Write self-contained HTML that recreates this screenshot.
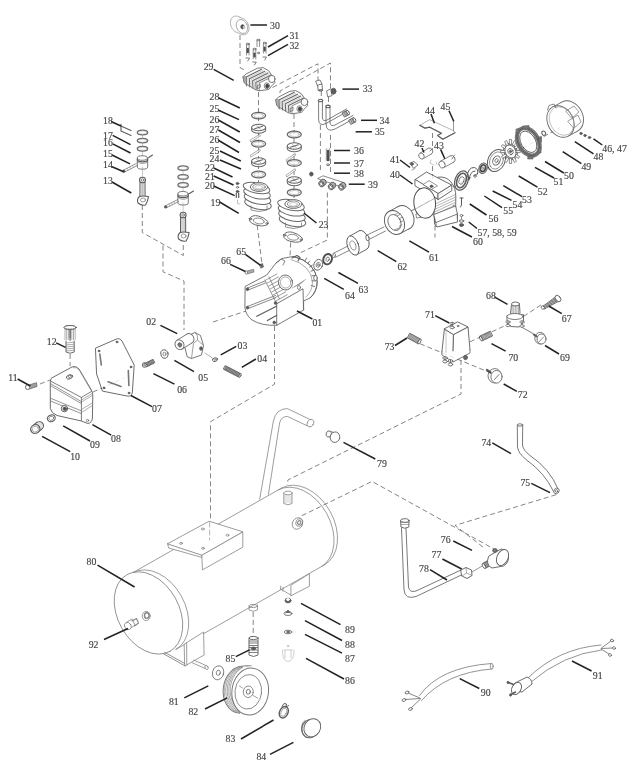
<!DOCTYPE html><html><head><meta charset="utf-8"><style>html,body{margin:0;padding:0;background:#fff;}svg{display:block;filter:blur(0.3px);}text{font-family:"Liberation Serif",serif;}</style></head><body>
<svg width="641" height="768" viewBox="0 0 641 768">
<rect width="641" height="768" fill="#fff"/>
<g fill="none" stroke="#777" stroke-width="0.9" stroke-dasharray="5,3">
<polyline points="240,35 240,67.5 246,71"/>
<polyline points="272.5,87.5 318,63.75 318,80"/>
<polyline points="280,93 280,91 330.5,63 330.5,88"/>
<polyline points="321.3,91 321.3,100"/>
<polyline points="328.5,97 328.5,106"/>
<polyline points="258.5,92 258.5,182"/>
<polyline points="294,114 294,198"/>
<polyline points="257.2,225.2 261.8,262.7"/>
<polyline points="290.7,242.4 290,256.4"/>
<polyline points="320.4,125 320.4,172"/>
<polyline points="330.5,135 330.5,175"/>
<polyline points="327.4,192.5 327.4,240 299.3,253.3"/>
<polyline points="142.3,205 142.3,232.5 183.3,255.5 183.3,243"/>
<polyline points="163,245.5 163,271.8 184,281 184,330"/>
<polyline points="213,322 246,311"/>
<polyline points="253.2,612 253.2,637"/>
<polyline points="411,211 560,127.5"/>
<polyline points="432.5,133 432.5,147"/>
<polyline points="432.5,166 432.5,180"/>
<polyline points="435,217.5 435,237.5"/>
<polyline points="40,384 50,380"/>
<polyline points="93,392 124,378"/>
<polyline points="70.1,354 70.1,366"/>
<polyline points="274.5,326 274.5,384.2 210.5,421.7 210.5,521"/>
<polyline points="420,343.7 492.4,373.6"/>
<polyline points="470,341.8 506.5,325"/>
<polyline points="523.4,316.5 542,304.3"/>
<polyline points="461,360 461,394 287.8,480 287.8,485"/>
<polyline points="301.8,515.7 372,481.4 494,549"/>
<polyline points="483,547 455,525.4 557.8,494.2"/>
</g>
<g fill="none" stroke="#333" stroke-width="0.8" stroke-linejoin="round" stroke-linecap="round" opacity="0.8">
<g stroke="#666">
<ellipse cx="148.5" cy="613" rx="44" ry="30.7" transform="rotate(60.8 148.5 613)" fill="#fff"/>
<path d="M133.034 572.591 A44 30.7 60.8 0 1 175.966 649.409"/>
<path d="M281.834 487.891 A44 30.7 60.8 0 1 324.766 564.709"/>
<path d="M278.334 489.891 A44 30.7 60.8 0 1 321.266 566.709"/>
<line x1="133.034" y1="572.591" x2="281.834" y2="487.891"/>
<line x1="175.966" y1="649.409" x2="324.766" y2="564.709"/>
<path d="M259.7 499 L273.4 421 Q276 408.6 287.4 408.6 L311.6 420.3"/>
<path d="M268.4 494.4 L279.6 423 Q281 416.4 287.4 416.4 L307 425.7"/>
<ellipse cx="310.4" cy="423.2" rx="3.1" ry="4" transform="rotate(30 310.4 423.2)" fill="#fff"/>
<polygon points="167.7,543.7 168.6,548 202.3,557.5 202.1,555" fill="#fff"/>
<polygon points="202.1,555 242.8,531.8 242.8,547.2 202.8,569.7" fill="#fff"/>
<polygon points="167.7,543.7 209.1,521.2 242.8,531.8 202.1,555" fill="#fff"/>
<line x1="209.6" y1="522" x2="209.6" y2="540" stroke="#999" stroke-width="0.9" stroke-dasharray="5,3"/>
<ellipse cx="181" cy="543.3" rx="1.4" ry="1"/>
<ellipse cx="202.8" cy="529" rx="1.4" ry="1"/>
<ellipse cx="227.5" cy="535.2" rx="1.4" ry="1"/>
<ellipse cx="203" cy="548.3" rx="1.4" ry="1"/>
<path d="M283.8 493 L283.8 503.5 Q288 506 292 503.5 L292 493" fill="#fff"/>
<ellipse cx="287.9" cy="493" rx="4.1" ry="1.8" fill="#fff"/>
<line x1="284" y1="496" x2="291.8" y2="496" stroke-width="0.5" stroke="#888"/>
<line x1="284" y1="498" x2="291.8" y2="498" stroke-width="0.5" stroke="#888"/>
<line x1="284" y1="500" x2="291.8" y2="500" stroke-width="0.5" stroke="#888"/>
<line x1="284" y1="502" x2="291.8" y2="502" stroke-width="0.5" stroke="#888"/>
<ellipse cx="297.5" cy="523.5" rx="5" ry="6" transform="rotate(30 297.5 523.5)" fill="#fff"/>
<ellipse cx="299.2" cy="522.5" rx="3.2" ry="4" transform="rotate(30 299.2 522.5)"/>
<ellipse cx="299.2" cy="522.5" rx="1.5" ry="2" transform="rotate(30 299.2 522.5)" stroke-width="1.2"/>
<ellipse cx="146.2" cy="616" rx="4" ry="4.6" fill="#fff"/>
<ellipse cx="146.8" cy="615.6" rx="2.3" ry="2.8" stroke-width="1.4"/>
<path d="M127 622 L132 619 L135 625 L129.5 629 Z" fill="#fff"/>
<ellipse cx="127.8" cy="626" rx="3.2" ry="3.8" transform="rotate(-30 127.8 626)" fill="#fff"/>
<path d="M132 621 L136.5 618.5 L138.5 623 L134.5 626" stroke-width="1.1"/>
<polygon points="184.5,644 203.6,632 204.1,655 185,665.9" fill="#fff"/>
<path d="M163.7 653.9 L185 665.9 M164.5 652.3 L184.8 663.5" stroke-width="0.9"/>
<line x1="186.6" y1="643" x2="186.8" y2="665"/>
<path d="M193.5 660 L207 666 M192.3 662.8 L205.8 668.8" stroke-width="0.8"/>
<ellipse cx="206.6" cy="667.5" rx="1.5" ry="2.1" transform="rotate(-30 206.6 667.5)" fill="#fff"/>
<polygon points="291.25,585 309.4,573.75 309.4,586.25 291.25,595.6" fill="#fff"/>
<path d="M280.5 589 L291.25 595.3 M280.5 589 L280.8 586 M283 587.5 L283 591"/>
<path d="M249 606 L249 610 Q253 612.5 257.5 610 L257.5 605"/>
<ellipse cx="253.2" cy="606" rx="4.2" ry="1.6"/>
</g>
<path d="M245.5 286.25 L266.75 275 L276 263 L282 258.5 L293.4 256.4 Q316 262 317.2 281.7 Q317 292 310 298 L303.6 301 L303.6 310 L276.7 325.3 Q262 326 252 320 Q245.5 315 244.9 307.5 Z" stroke-width="0.9" stroke="#444" fill="#fff"/>
<path d="M276.7 303.75 L303 288.75 L303.6 310 M276.7 303.75 L276.7 325.3" stroke-width="0.9" stroke="#444"/>
<path d="M264.9 280 L276.7 303.75 M269 277 L279.5 299" stroke-width="0.7" stroke="#444"/>
<line x1="265.9" y1="280" x2="276.9" y2="274" stroke-width="0.7" stroke="#555"/>
<line x1="267.375" y1="282.969" x2="278.375" y2="276.969" stroke-width="0.7" stroke="#555"/>
<line x1="268.85" y1="285.938" x2="279.85" y2="279.938" stroke-width="0.7" stroke="#555"/>
<line x1="270.325" y1="288.906" x2="281.325" y2="282.906" stroke-width="0.7" stroke="#555"/>
<line x1="271.8" y1="291.875" x2="282.8" y2="285.875" stroke-width="0.7" stroke="#555"/>
<line x1="273.275" y1="294.844" x2="284.275" y2="288.844" stroke-width="0.7" stroke="#555"/>
<line x1="274.75" y1="297.812" x2="285.75" y2="291.812" stroke-width="0.7" stroke="#555"/>
<line x1="276.225" y1="300.781" x2="287.225" y2="294.781" stroke-width="0.7" stroke="#555"/>
<path d="M247.4 288 L264.9 281 M247.4 290.3 L265.5 283" stroke-width="0.8" stroke="#444"/>
<path d="M247.4 306.5 L275.5 295.5 M247.4 308.8 L275.5 297.8" stroke-width="0.8" stroke="#444"/>
<line x1="256.75" y1="316.25" x2="276.5" y2="306.25" stroke-width="1.2" stroke="#333"/>
<line x1="267.4" y1="320.6" x2="276.5" y2="315.5" stroke-width="1.2" stroke="#333"/>
<ellipse cx="247.4" cy="289.2" rx="1.3" ry="1.4" fill="#333"/>
<ellipse cx="247.4" cy="307.6" rx="1.3" ry="1.4" fill="#333"/>
<ellipse cx="275.5" cy="303" rx="1.3" ry="1.4" fill="#333"/>
<ellipse cx="274.25" cy="322.5" rx="1.3" ry="1.4" fill="#333"/>
<ellipse cx="285.5" cy="282.5" rx="7" ry="7.5" transform="rotate(-15 285.5 282.5)" stroke-width="0.9" stroke="#444" fill="#fff"/>
<ellipse cx="285.5" cy="282.5" rx="5.2" ry="5.6" transform="rotate(-15 285.5 282.5)" stroke-width="0.6" stroke="#666"/>
<line x1="292" y1="288" x2="301" y2="283" stroke-width="0.6" stroke="#666"/>
<line x1="294.5" y1="286.8" x2="302.5" y2="281.8" stroke-width="0.6" stroke="#666"/>
<line x1="297" y1="285.6" x2="304" y2="280.6" stroke-width="0.6" stroke="#666"/>
<line x1="299.5" y1="284.4" x2="305.5" y2="279.4" stroke-width="0.6" stroke="#666"/>
<path d="M293.4 256.4 Q316 262 317.2 281.7 Q317 292 310 298" stroke-width="0.9" stroke="#444"/>
<path d="M291 259.5 Q311 265 312.5 282 Q312.5 291 306 297" stroke-width="0.6" stroke="#555"/>
<line x1="305.071" y1="260.874" x2="306.551" y2="258.155" stroke-width="1" stroke="#555"/>
<line x1="307.552" y1="263.457" x2="309.754" y2="261.126" stroke-width="1" stroke="#555"/>
<line x1="309.584" y1="266.964" x2="312.379" y2="265.158" stroke-width="1" stroke="#555"/>
<line x1="311.046" y1="271.185" x2="314.268" y2="270.013" stroke-width="1" stroke="#555"/>
<line x1="311.852" y1="275.871" x2="315.309" y2="275.402" stroke-width="1" stroke="#555"/>
<line x1="311.954" y1="280.743" x2="315.441" y2="281.005" stroke-width="1" stroke="#555"/>
<line x1="311.346" y1="285.511" x2="314.656" y2="286.488" stroke-width="1" stroke="#555"/>
<path d="M276 263 L281 259 L285 261 L283 265" stroke-width="0.8" stroke="#444"/>
<path d="M292 258 L297 255.5 L300 257.5 L298 261" stroke-width="1.1" stroke="#333"/>
<ellipse cx="315.5" cy="278" rx="1.8" ry="2.5" stroke-width="0.8" fill="#fff"/>
<ellipse cx="299" cy="287.5" rx="1.5" ry="2" stroke-width="0.7"/>
<path d="M240 17.3 L244.5 19.3 A5.6 7.4 -25 0 1 239.4 33.5 L234.9 31.5 A5.6 7.4 -25 0 1 240 17.3 Z" stroke="#888" fill="#fff"/>
<ellipse cx="242" cy="26.5" rx="5.4" ry="7.3" transform="rotate(-25 242 26.5)" stroke="#888" fill="#fff"/>
<ellipse cx="242.6" cy="26.8" rx="1.8" ry="2.1" stroke="#222" fill="#222"/>
<ellipse cx="244" cy="27.3" rx="1" ry="1.2" stroke="#bbb" fill="#bbb"/>
<path d="M246.5 44 L246.5 55 M249.1 44 L249.1 55" stroke-width="0.7"/>
<ellipse cx="247.8" cy="44" rx="1.5" ry="0.8" fill="#fff"/>
<line x1="247.8" y1="48.95" x2="247.8" y2="52.25" stroke-width="2.2" stroke="#222"/>
<path d="M246 58 L249.6 58 L247.8 61" stroke-width="0.8" fill="#fff"/>
<path d="M253.2 49 L253.2 59 M255.8 49 L255.8 59" stroke-width="0.7"/>
<ellipse cx="254.5" cy="49" rx="1.5" ry="0.8" fill="#fff"/>
<line x1="254.5" y1="53.5" x2="254.5" y2="56.5" stroke-width="2.2" stroke="#222"/>
<path d="M252.7 62 L256.3 62 L254.5 65" stroke-width="0.8" fill="#fff"/>
<path d="M257 40 L257 46.5 M259.6 40 L259.6 46.5" stroke-width="0.7"/>
<ellipse cx="258.3" cy="40" rx="1.5" ry="0.8" fill="#fff"/>
<path d="M263.4 43 L263.4 53 M266 43 L266 53" stroke-width="0.7"/>
<ellipse cx="264.7" cy="43" rx="1.5" ry="0.8" fill="#fff"/>
<line x1="264.7" y1="47.5" x2="264.7" y2="50.5" stroke-width="2.2" stroke="#222"/>
<path d="M262.9 57 L266.5 57 L264.7 60" stroke-width="0.8" fill="#fff"/>
<ellipse cx="258.5" cy="53" rx="1" ry="0.8"/>
<polygon points="243.3,76.4 246.2,73.9 257.3,68.25 263.05,67.6 268.7,70.75 271.2,74.5 274.3,78.9 274.9,82.6 271.8,85.75 268.7,89.5 259.3,90.75 254.9,89.5 244.3,82.6" stroke-width="0.9" stroke="#444" fill="#fff"/>
<path d="M261.6 69.3 L246.2 76.9 L246.6 85.7" stroke-width="1.1" stroke="#444"/>
<path d="M263.2 70.2 L247.8 77.8 L248.2 86.5" stroke-width="0.5" stroke="#888"/>
<path d="M264.8 71.2 L249.4 78.8 L249.8 86.84" stroke-width="1.1" stroke="#444"/>
<path d="M266.4 72.1 L251 79.7 L251.4 87.64" stroke-width="0.5" stroke="#888"/>
<path d="M268 73.1 L252.6 80.7 L253 87.98" stroke-width="1.1" stroke="#444"/>
<path d="M269.6 74 L254.2 81.6 L254.6 88.78" stroke-width="0.5" stroke="#888"/>
<path d="M271.2 75 L255.8 82.6 L256.2 89.12" stroke-width="1.1" stroke="#444"/>
<path d="M272.8 75.9 L257.4 83.5 L257.8 89.92" stroke-width="0.5" stroke="#888"/>
<polygon points="243.3,76.4 246.2,76.9 246.6,85.7 244.3,82.6" stroke-width="0.6" stroke="#555" fill="#999"/>
<path d="M259.3 90.75 L259.3 83 L271.8 77" stroke-width="0.7" stroke="#555"/>
<ellipse cx="271.8" cy="79" rx="3.3" ry="3.6" stroke-width="0.9" stroke="#444" fill="#fff"/>
<ellipse cx="266.8" cy="85.8" rx="2.6" ry="3" stroke-width="0.8" stroke="#444" fill="#fff"/>
<ellipse cx="267.1" cy="86" rx="1.4" ry="2" stroke="#111" fill="#111"/>
<path d="M257.8 85.5 l2.5 -1.2 l0 3 l-2.5 1.2 Z" stroke-width="0.8" stroke="#444"/>
<polygon points="276,99.4 278.9,96.9 290,91.25 295.75,90.6 301.4,93.75 303.9,97.5 307,101.9 307.6,105.6 304.5,108.75 301.4,112.5 292,113.75 287.6,112.5 277,105.6" stroke-width="0.9" stroke="#444" fill="#fff"/>
<path d="M294.3 92.3 L278.9 99.9 L279.3 108.7" stroke-width="1.1" stroke="#444"/>
<path d="M295.9 93.2 L280.5 100.8 L280.9 109.5" stroke-width="0.5" stroke="#888"/>
<path d="M297.5 94.2 L282.1 101.8 L282.5 109.84" stroke-width="1.1" stroke="#444"/>
<path d="M299.1 95.1 L283.7 102.7 L284.1 110.64" stroke-width="0.5" stroke="#888"/>
<path d="M300.7 96.1 L285.3 103.7 L285.7 110.98" stroke-width="1.1" stroke="#444"/>
<path d="M302.3 97 L286.9 104.6 L287.3 111.78" stroke-width="0.5" stroke="#888"/>
<path d="M303.9 98 L288.5 105.6 L288.9 112.12" stroke-width="1.1" stroke="#444"/>
<path d="M305.5 98.9 L290.1 106.5 L290.5 112.92" stroke-width="0.5" stroke="#888"/>
<polygon points="276,99.4 278.9,99.9 279.3,108.7 277,105.6" stroke-width="0.6" stroke="#555" fill="#999"/>
<path d="M292 113.75 L292 106 L304.5 100" stroke-width="0.7" stroke="#555"/>
<ellipse cx="304.5" cy="102" rx="3.3" ry="3.6" stroke-width="0.9" stroke="#444" fill="#fff"/>
<ellipse cx="299.5" cy="108.8" rx="2.6" ry="3" stroke-width="0.8" stroke="#444" fill="#fff"/>
<ellipse cx="299.8" cy="109" rx="1.4" ry="2" stroke="#111" fill="#111"/>
<path d="M290.5 108.5 l2.5 -1.2 l0 3 l-2.5 1.2 Z" stroke-width="0.8" stroke="#444"/>
<path d="M316 81 L320 80 L322 84 L318 86 Z" fill="#fff"/>
<path d="M318 85 L322 84 L322.5 90 L318.5 90.5 Z" fill="#fff"/>
<ellipse cx="320.5" cy="90.3" rx="2" ry="0.8"/>
<path d="M327 90.7 L331 88.7 L332 95.7 L328 96.7 Z" fill="#fff"/>
<ellipse cx="333.5" cy="91.2" rx="2.5" ry="3" fill="#333"/>
<path d="M318.6 100.5 L318.6 119 Q318.6 127 326 123.5 L345.5 112.5" stroke-width="0.8"/>
<path d="M322.4 100.5 L322.4 118 Q323 122 327 120 L346.5 109" stroke-width="0.8"/>
<ellipse cx="320.5" cy="100.5" rx="2.2" ry="1.3" stroke-width="1.1" fill="#fff"/>
<polygon points="344.629,116.918 349.129,114.518 346.871,110.282 342.371,112.682" stroke-width="0.8" stroke="#333" fill="#aaa"/>
<line x1="346.129" y1="116.118" x2="343.871" y2="111.882" stroke-width="0.5" stroke="#222"/>
<line x1="347.629" y1="115.318" x2="345.371" y2="111.082" stroke-width="0.5" stroke="#222"/>
<ellipse cx="348" cy="112.4" rx="1.08" ry="2.4" transform="rotate(-28.0725 348 112.4)" stroke-width="0.8" stroke="#333" fill="#fff"/>
<path d="M326 106.4 L326 124 Q326.5 133 335 129 L352.5 119.5" stroke-width="0.8"/>
<path d="M330 106.4 L330 123 Q331 127 335 125 L353 115.5" stroke-width="0.8"/>
<ellipse cx="328" cy="106.4" rx="2.2" ry="1.3" stroke-width="1.1" fill="#fff"/>
<polygon points="351.129,124.318 355.629,121.918 353.371,117.682 348.871,120.082" stroke-width="0.8" stroke="#333" fill="#aaa"/>
<line x1="352.629" y1="123.518" x2="350.371" y2="119.282" stroke-width="0.5" stroke="#222"/>
<line x1="354.129" y1="122.718" x2="351.871" y2="118.482" stroke-width="0.5" stroke="#222"/>
<ellipse cx="354.5" cy="119.8" rx="1.08" ry="2.4" transform="rotate(-28.0725 354.5 119.8)" stroke-width="0.8" stroke="#333" fill="#fff"/>
<path d="M326.3 148.7 L326.3 160.5 M329.7 148.7 L329.7 160.5" stroke-width="0.6"/>
<line x1="328" y1="151" x2="328" y2="160" stroke-width="2.5" stroke="#222"/>
<ellipse cx="328" cy="164.8" rx="1.5" ry="0.9"/>
<polygon points="318,178.5 323,175.8 345,183 341,186.5" stroke-width="0.8" stroke="#444" fill="#fff"/>
<ellipse cx="323.7" cy="182" rx="2.4" ry="3" transform="rotate(-30 323.7 182)" stroke-width="0.8" stroke="#333" fill="#999"/>
<polygon points="322.8,186.598 325.2,184.598 322.2,179.402 319.8,181.402" stroke="none" fill="#999"/>
<line x1="322.8" y1="186.598" x2="325.2" y2="184.598" stroke-width="0.8" stroke="#333"/>
<line x1="319.8" y1="181.402" x2="322.2" y2="179.402" stroke-width="0.8" stroke="#333"/>
<ellipse cx="321.3" cy="184" rx="2.4" ry="3" transform="rotate(-30 321.3 184)" stroke-width="0.8" stroke="#333" fill="#999"/>
<ellipse cx="321.3" cy="184" rx="1.3" ry="1.7" transform="rotate(-30 321.3 184)" stroke-width="0.6" stroke="#333" fill="#fff"/>
<ellipse cx="333.2" cy="185" rx="2.4" ry="3" transform="rotate(-30 333.2 185)" stroke-width="0.8" stroke="#333" fill="#999"/>
<polygon points="332.3,189.598 334.7,187.598 331.7,182.402 329.3,184.402" stroke="none" fill="#999"/>
<line x1="332.3" y1="189.598" x2="334.7" y2="187.598" stroke-width="0.8" stroke="#333"/>
<line x1="329.3" y1="184.402" x2="331.7" y2="182.402" stroke-width="0.8" stroke="#333"/>
<ellipse cx="330.8" cy="187" rx="2.4" ry="3" transform="rotate(-30 330.8 187)" stroke-width="0.8" stroke="#333" fill="#999"/>
<ellipse cx="330.8" cy="187" rx="1.3" ry="1.7" transform="rotate(-30 330.8 187)" stroke-width="0.6" stroke="#333" fill="#fff"/>
<ellipse cx="343.4" cy="185.3" rx="2.4" ry="3" transform="rotate(-30 343.4 185.3)" stroke-width="0.8" stroke="#333" fill="#999"/>
<polygon points="342.5,189.898 344.9,187.898 341.9,182.702 339.5,184.702" stroke="none" fill="#999"/>
<line x1="342.5" y1="189.898" x2="344.9" y2="187.898" stroke-width="0.8" stroke="#333"/>
<line x1="339.5" y1="184.702" x2="341.9" y2="182.702" stroke-width="0.8" stroke="#333"/>
<ellipse cx="341" cy="187.3" rx="2.4" ry="3" transform="rotate(-30 341 187.3)" stroke-width="0.8" stroke="#333" fill="#999"/>
<ellipse cx="341" cy="187.3" rx="1.3" ry="1.7" transform="rotate(-30 341 187.3)" stroke-width="0.6" stroke="#333" fill="#fff"/>
<ellipse cx="311.3" cy="174.1" rx="1.7" ry="2" stroke="#222" fill="#333"/>
<ellipse cx="258.6" cy="115.6" rx="7" ry="3.3" stroke-width="1.3" stroke="#444" fill="#fff"/>
<ellipse cx="258.6" cy="115.6" rx="4.8" ry="2" stroke-width="0.5" stroke="#777"/>
<path d="M251.6 127.5 L251.6 130 A7 3.3 0 0 0 265.6 130 L265.6 127.5" stroke-width="1.1" stroke="#444" fill="#fff"/>
<ellipse cx="258.6" cy="127.5" rx="7" ry="3.3" stroke-width="1.1" stroke="#444" fill="#fff"/>
<line x1="254.6" y1="128.7" x2="262.6" y2="126.3" stroke-width="1.2" stroke="#444"/>
<line x1="256.6" y1="126" x2="260.6" y2="129" stroke-width="0.6" stroke="#666"/>
<path d="M250.4 140 L259.7 134.3 L260.3 136.1 L251 141.8 Z" stroke-width="0.6" stroke="#555" fill="#fff"/>
<ellipse cx="258.6" cy="143.8" rx="7" ry="3.3" stroke-width="1.3" stroke="#444" fill="#fff"/>
<ellipse cx="258.6" cy="143.8" rx="4.8" ry="2" stroke-width="0.5" stroke="#777"/>
<path d="M250.4 155.2 L259.7 149.1 L260.3 150.9 L251 157 Z" stroke-width="0.6" stroke="#555" fill="#fff"/>
<path d="M251.6 161 L251.6 163.5 A7 3.3 0 0 0 265.6 163.5 L265.6 161" stroke-width="1.1" stroke="#444" fill="#fff"/>
<ellipse cx="258.6" cy="161" rx="7" ry="3.3" stroke-width="1.1" stroke="#444" fill="#fff"/>
<line x1="254.6" y1="162.2" x2="262.6" y2="159.8" stroke-width="1.2" stroke="#444"/>
<line x1="256.6" y1="159.5" x2="260.6" y2="162.5" stroke-width="0.6" stroke="#666"/>
<ellipse cx="258.6" cy="174.5" rx="7" ry="3.3" stroke-width="1.3" stroke="#444" fill="#fff"/>
<ellipse cx="258.6" cy="174.5" rx="4.8" ry="2" stroke-width="0.5" stroke="#777"/>
<ellipse cx="294.3" cy="134.5" rx="7" ry="3.3" stroke-width="1.3" stroke="#444" fill="#fff"/>
<ellipse cx="294.3" cy="134.5" rx="4.8" ry="2" stroke-width="0.5" stroke="#777"/>
<path d="M287.3 146 L287.3 148.5 A7 3.3 0 0 0 301.3 148.5 L301.3 146" stroke-width="1.1" stroke="#444" fill="#fff"/>
<ellipse cx="294.3" cy="146" rx="7" ry="3.3" stroke-width="1.1" stroke="#444" fill="#fff"/>
<line x1="290.3" y1="147.2" x2="298.3" y2="144.8" stroke-width="1.2" stroke="#444"/>
<line x1="292.3" y1="144.5" x2="296.3" y2="147.5" stroke-width="0.6" stroke="#666"/>
<path d="M286.4 159.6 L295.1 153.4 L295.7 155.2 L287 161.4 Z" stroke-width="0.6" stroke="#555" fill="#fff"/>
<ellipse cx="294.3" cy="162.9" rx="7" ry="3.3" stroke-width="1.3" stroke="#444" fill="#fff"/>
<ellipse cx="294.3" cy="162.9" rx="4.8" ry="2" stroke-width="0.5" stroke="#777"/>
<path d="M286.4 175 L295.1 168.7 L295.7 170.5 L287 176.8 Z" stroke-width="0.6" stroke="#555" fill="#fff"/>
<path d="M287.3 180 L287.3 182.5 A7 3.3 0 0 0 301.3 182.5 L301.3 180" stroke-width="1.1" stroke="#444" fill="#fff"/>
<ellipse cx="294.3" cy="180" rx="7" ry="3.3" stroke-width="1.1" stroke="#444" fill="#fff"/>
<line x1="290.3" y1="181.2" x2="298.3" y2="178.8" stroke-width="1.2" stroke="#444"/>
<line x1="292.3" y1="178.5" x2="296.3" y2="181.5" stroke-width="0.6" stroke="#666"/>
<ellipse cx="294.3" cy="192.5" rx="7" ry="3.3" stroke-width="1.3" stroke="#444" fill="#fff"/>
<ellipse cx="294.3" cy="192.5" rx="4.8" ry="2" stroke-width="0.5" stroke="#777"/>
<ellipse cx="258" cy="203.9" rx="13.5" ry="5.2" transform="rotate(12 258 203.9)" stroke-width="1" stroke="#444" fill="#fff"/>
<ellipse cx="257.5" cy="198.6" rx="13.5" ry="5.2" transform="rotate(12 257.5 198.6)" stroke-width="1" stroke="#444" fill="#fff"/>
<ellipse cx="257" cy="193.3" rx="13.5" ry="5.2" transform="rotate(12 257 193.3)" stroke-width="1" stroke="#444" fill="#fff"/>
<ellipse cx="256.5" cy="188" rx="13.5" ry="5.2" transform="rotate(12 256.5 188)" stroke-width="1" stroke="#444" fill="#fff"/>
<path d="M251 206 L251 210 Q259 213 267 210 L267 206" stroke-width="0.8" stroke="#555"/>
<ellipse cx="259" cy="187" rx="8.7" ry="4.4" stroke-width="1" stroke="#444" fill="#fff"/>
<ellipse cx="259" cy="187" rx="6.3" ry="3" stroke-width="0.8" stroke="#555"/>
<ellipse cx="259" cy="187.3" rx="4" ry="1.8" stroke-width="0.5" stroke="#777"/>
<ellipse cx="292.5" cy="220.9" rx="13.5" ry="5.2" transform="rotate(12 292.5 220.9)" stroke-width="1" stroke="#444" fill="#fff"/>
<ellipse cx="292" cy="215.6" rx="13.5" ry="5.2" transform="rotate(12 292 215.6)" stroke-width="1" stroke="#444" fill="#fff"/>
<ellipse cx="291.5" cy="210.3" rx="13.5" ry="5.2" transform="rotate(12 291.5 210.3)" stroke-width="1" stroke="#444" fill="#fff"/>
<ellipse cx="291" cy="205" rx="13.5" ry="5.2" transform="rotate(12 291 205)" stroke-width="1" stroke="#444" fill="#fff"/>
<path d="M285.5 223 L285.5 227 Q293.5 230 301.5 227 L301.5 223" stroke-width="0.8" stroke="#555"/>
<ellipse cx="293.5" cy="204" rx="8.7" ry="4.4" stroke-width="1" stroke="#444" fill="#fff"/>
<ellipse cx="293.5" cy="204" rx="6.3" ry="3" stroke-width="0.8" stroke="#555"/>
<ellipse cx="293.5" cy="204.3" rx="4" ry="1.8" stroke-width="0.5" stroke="#777"/>
<path d="M249.3 218.5 Q252.3 214.5 258.3 216 Q264.3 217.5 267.8 221.5 Q270.3 225.5 261.3 226 Q248.3 224.5 249.3 218.5 Z" stroke-width="1" stroke="#444" fill="#fff"/>
<ellipse cx="258.8" cy="221" rx="5.5" ry="2.8" transform="rotate(10 258.8 221)" stroke-width="0.8" stroke="#555"/>
<ellipse cx="250.8" cy="219" rx="1" ry="0.8"/>
<ellipse cx="266.8" cy="223.5" rx="1" ry="0.8"/>
<path d="M283.5 234.8 Q286.5 230.8 292.5 232.3 Q298.5 233.8 302 237.8 Q304.5 241.8 295.5 242.3 Q282.5 240.8 283.5 234.8 Z" stroke-width="1" stroke="#444" fill="#fff"/>
<ellipse cx="293" cy="237.3" rx="5.5" ry="2.8" transform="rotate(10 293 237.3)" stroke-width="0.8" stroke="#555"/>
<ellipse cx="285" cy="235.3" rx="1" ry="0.8"/>
<ellipse cx="301" cy="239.8" rx="1" ry="0.8"/>
<ellipse cx="237.5" cy="183.5" rx="1.4" ry="1.1" fill="#222"/>
<ellipse cx="237.5" cy="187.3" rx="1.2" ry="0.8"/>
<ellipse cx="237.5" cy="191.5" rx="1.4" ry="1.1" fill="#222"/>
<path d="M236.3 193 L236.3 197.5 M238.7 193 L238.7 197.5" stroke-width="1.2" stroke="#333"/>
<path d="M237.5 200 L237.5 203 Q238 204.5 239.5 204" stroke-width="0.6" stroke="#666"/>
<ellipse cx="142.5" cy="132.5" rx="5.2" ry="2.3" stroke-width="1.3" stroke="#444" fill="#fff"/>
<ellipse cx="142.5" cy="132.5" rx="4.2" ry="1.5" stroke-width="0.4" stroke="#999"/>
<ellipse cx="142.5" cy="140.6" rx="5.2" ry="2.3" stroke-width="1.3" stroke="#444" fill="#fff"/>
<ellipse cx="142.5" cy="140.6" rx="4.2" ry="1.5" stroke-width="0.4" stroke="#999"/>
<ellipse cx="142.5" cy="148.75" rx="5.2" ry="2.3" stroke-width="1.3" stroke="#444" fill="#fff"/>
<ellipse cx="142.5" cy="148.75" rx="4.2" ry="1.5" stroke-width="0.4" stroke="#999"/>
<path d="M137.3 158 L137.3 166.9 A5.2 2.3 0 0 0 147.7 166.9 L147.7 158" stroke-width="0.9" stroke="#444" fill="#fff"/>
<ellipse cx="142.5" cy="158" rx="5.2" ry="2.3" stroke-width="0.9" stroke="#444" fill="#fff"/>
<path d="M137.3 159.5 A5.2 2.3 0 0 0 147.7 159.5" stroke-width="1.2" stroke="#333"/>
<path d="M137.3 161.2 A5.2 2.3 0 0 0 147.7 161.2" stroke-width="0.7" stroke="#555"/>
<path d="M124.258 172.226 L137.408 165.376 M123.242 170.274 L136.392 163.424" stroke-width="0.7" stroke="#444"/>
<ellipse cx="123.75" cy="171.25" rx="1.2" ry="1.2" stroke="#333" fill="#333"/>
<line x1="128.203" y1="170.171" x2="127.187" y2="168.219" stroke-width="0.5" stroke="#666"/>
<line x1="130.833" y1="168.801" x2="129.817" y2="166.849" stroke-width="0.5" stroke="#666"/>
<line x1="133.463" y1="167.431" x2="132.447" y2="165.479" stroke-width="0.5" stroke="#666"/>
<path d="M148.8 157.5 L152.5 155" stroke-width="1.1" stroke="#333"/>
<ellipse cx="142.5" cy="180" rx="3" ry="2.8" stroke-width="1.1" stroke="#333" fill="#fff"/>
<ellipse cx="142.5" cy="180" rx="1.3" ry="1.3" stroke-width="0.7"/>
<path d="M140 182.5 L139.9 197 M145 182.5 L145.1 197" stroke-width="1" stroke="#333"/>
<line x1="141.25" y1="183.5" x2="141.25" y2="196" stroke-width="0.5" stroke="#666"/>
<line x1="142.5" y1="183.5" x2="142.5" y2="196" stroke-width="0.5" stroke="#666"/>
<line x1="143.75" y1="183.5" x2="143.75" y2="196" stroke-width="0.5" stroke="#666"/>
<path d="M139.5 196.5 Q136.5 199 138 203 Q141.5 206 145.5 205 Q148 201 148.5 196.5 Q142.5 195.5 139.5 196.5 Z" stroke-width="1.1" stroke="#333" fill="#fff"/>
<ellipse cx="143" cy="200" rx="2.5" ry="2" stroke-width="0.6"/>
<ellipse cx="183.1" cy="168.1" rx="5.2" ry="2.3" stroke-width="1.3" stroke="#444" fill="#fff"/>
<ellipse cx="183.1" cy="168.1" rx="4.2" ry="1.5" stroke-width="0.4" stroke="#999"/>
<ellipse cx="183.1" cy="176.9" rx="5.2" ry="2.3" stroke-width="1.3" stroke="#444" fill="#fff"/>
<ellipse cx="183.1" cy="176.9" rx="4.2" ry="1.5" stroke-width="0.4" stroke="#999"/>
<ellipse cx="183.1" cy="185" rx="5.2" ry="2.3" stroke-width="1.3" stroke="#444" fill="#fff"/>
<ellipse cx="183.1" cy="185" rx="4.2" ry="1.5" stroke-width="0.4" stroke="#999"/>
<path d="M177.9 193.75 L177.9 202.75 A5.2 2.3 0 0 0 188.3 202.75 L188.3 193.75" stroke-width="0.9" stroke="#444" fill="#fff"/>
<ellipse cx="183.1" cy="193.75" rx="5.2" ry="2.3" stroke-width="0.9" stroke="#444" fill="#fff"/>
<path d="M177.9 195.25 A5.2 2.3 0 0 0 188.3 195.25" stroke-width="1.2" stroke="#333"/>
<path d="M177.9 196.95 A5.2 2.3 0 0 0 188.3 196.95" stroke-width="0.7" stroke="#555"/>
<path d="M166.095 207.882 L178.595 201.582 M165.105 205.918 L177.605 199.618" stroke-width="0.7" stroke="#444"/>
<ellipse cx="165.6" cy="206.9" rx="1.2" ry="1.2" stroke="#333" fill="#333"/>
<line x1="169.845" y1="205.992" x2="168.855" y2="204.028" stroke-width="0.5" stroke="#666"/>
<line x1="172.345" y1="204.732" x2="171.355" y2="202.768" stroke-width="0.5" stroke="#666"/>
<line x1="174.845" y1="203.472" x2="173.855" y2="201.508" stroke-width="0.5" stroke="#666"/>
<path d="M189.5 193.5 L193.5 191" stroke-width="1.1" stroke="#333"/>
<ellipse cx="183.1" cy="215" rx="3" ry="2.8" stroke-width="1.1" stroke="#333" fill="#fff"/>
<ellipse cx="183.1" cy="215" rx="1.3" ry="1.3" stroke-width="0.7"/>
<path d="M180.6 217.5 L180.5 233 M185.6 217.5 L185.7 233" stroke-width="1" stroke="#333"/>
<line x1="181.85" y1="218.5" x2="181.85" y2="232" stroke-width="0.5" stroke="#666"/>
<line x1="183.1" y1="218.5" x2="183.1" y2="232" stroke-width="0.5" stroke="#666"/>
<line x1="184.35" y1="218.5" x2="184.35" y2="232" stroke-width="0.5" stroke="#666"/>
<path d="M180.1 232.5 Q177.1 235 178.6 239 Q182.1 242 186.1 241 Q188.6 237 189.1 232.5 Q183.1 231.5 180.1 232.5 Z" stroke-width="1.1" stroke="#333" fill="#fff"/>
<ellipse cx="183.6" cy="236" rx="2.5" ry="2" stroke-width="0.6"/>
<path d="M121 124.3 L121 131.2 M121 126 L131 130.5 M121 131 L131 135.5" stroke-width="1.1" stroke="#333"/>
<line x1="142.5" y1="134.8" x2="142.5" y2="138.3" stroke-width="0.5" stroke="#777"/>
<line x1="142.5" y1="142.9" x2="142.5" y2="146.4" stroke-width="0.5" stroke="#777"/>
<line x1="142.5" y1="151" x2="142.5" y2="155.7" stroke-width="0.5" stroke="#777"/>
<line x1="142.5" y1="167" x2="142.5" y2="177.5" stroke-width="0.5" stroke="#777"/>
<line x1="183.1" y1="170.4" x2="183.1" y2="174.6" stroke-width="0.5" stroke="#777"/>
<line x1="183.1" y1="179.2" x2="183.1" y2="182.7" stroke-width="0.5" stroke="#777"/>
<line x1="183.1" y1="187.3" x2="183.1" y2="191.4" stroke-width="0.5" stroke="#777"/>
<line x1="183.1" y1="203" x2="183.1" y2="212.5" stroke-width="0.5" stroke="#777"/>
<ellipse cx="318.2" cy="264.8" rx="4.3" ry="5.5" transform="rotate(20 318.2 264.8)" stroke-width="0.9" stroke="#444" fill="#fff"/>
<ellipse cx="318.2" cy="264.8" rx="2" ry="2.6" transform="rotate(20 318.2 264.8)" stroke-width="0.8" stroke="#555"/>
<ellipse cx="318.2" cy="264.8" rx="0.9" ry="1.2" stroke-width="0.6"/>
<ellipse cx="327.6" cy="259.2" rx="4.2" ry="5.2" transform="rotate(20 327.6 259.2)" stroke-width="2" stroke="#222" fill="#fff"/>
<ellipse cx="327.6" cy="259.2" rx="1.6" ry="2.2" transform="rotate(20 327.6 259.2)" stroke-width="0.8" stroke="#444"/>
<path d="M333 253.5 L350 245 M335 257.5 L351 249.5" stroke-width="0.8" stroke="#444"/>
<ellipse cx="334" cy="255.5" rx="1.3" ry="2.1" transform="rotate(20 334 255.5)" stroke-width="0.7" fill="#fff"/>
<ellipse cx="363" cy="240" rx="5.5" ry="10" transform="rotate(-20 363 240)" stroke-width="0.9" stroke="#333" fill="#fff"/>
<polygon points="356.42,254.897 366.42,249.397 359.58,230.603 349.58,236.103" stroke="none" fill="#fff"/>
<line x1="356.42" y1="254.897" x2="366.42" y2="249.397" stroke-width="0.9" stroke="#333"/>
<line x1="349.58" y1="236.103" x2="359.58" y2="230.603" stroke-width="0.9" stroke="#333"/>
<ellipse cx="353" cy="245.5" rx="5.5" ry="10" transform="rotate(-20 353 245.5)" stroke-width="0.9" stroke="#333" fill="#fff"/>
<ellipse cx="353" cy="245.5" rx="2.8" ry="4.8" transform="rotate(-20 353 245.5)" stroke-width="0.7" stroke="#555"/>
<path d="M366 235.5 L384 227 M368 240 L385.5 231" stroke-width="0.8" stroke="#444"/>
<ellipse cx="367.5" cy="238" rx="1.6" ry="2.8" transform="rotate(-10 367.5 238)" stroke-width="0.8" fill="#fff"/>
<ellipse cx="404" cy="217.5" rx="9.6" ry="12.4" transform="rotate(-25 404 217.5)" stroke-width="0.9" stroke="#333" fill="#fff"/>
<polygon points="399.74,233.738 409.24,228.738 398.76,206.262 389.26,211.262" stroke="none" fill="#fff"/>
<line x1="399.74" y1="233.738" x2="409.24" y2="228.738" stroke-width="0.9" stroke="#333"/>
<line x1="389.26" y1="211.262" x2="398.76" y2="206.262" stroke-width="0.9" stroke="#333"/>
<ellipse cx="394.5" cy="222.5" rx="9.6" ry="12.4" transform="rotate(-25 394.5 222.5)" stroke-width="0.9" stroke="#333" fill="#fff"/>
<ellipse cx="394.5" cy="222.5" rx="6.2" ry="8.4" transform="rotate(-25 394.5 222.5)" stroke-width="0.8" stroke="#444"/>
<line x1="394.5" y1="214.9" x2="397.2" y2="213.4" stroke-width="0.7" stroke="#444"/>
<line x1="397.25" y1="215.918" x2="399.95" y2="214.418" stroke-width="0.7" stroke="#444"/>
<line x1="399.263" y1="218.7" x2="401.963" y2="217.2" stroke-width="0.7" stroke="#444"/>
<line x1="400" y1="222.5" x2="402.7" y2="221" stroke-width="0.7" stroke="#444"/>
<line x1="399.263" y1="226.3" x2="401.963" y2="224.8" stroke-width="0.7" stroke="#444"/>
<line x1="397.25" y1="229.082" x2="399.95" y2="227.582" stroke-width="0.7" stroke="#444"/>
<line x1="394.5" y1="230.1" x2="397.2" y2="228.6" stroke-width="0.7" stroke="#444"/>
<path d="M430 186 L437.8 177.2 Q446 176 451 182 Q456 188 455.8 197 L455.6 212 L457.4 214 L457.4 222 L437 227 L434.5 224 L434 212 L427 210 Z" stroke-width="0.9" stroke="#333" fill="#fff"/>
<line x1="435" y1="204" x2="455.5" y2="194.5" stroke-width="0.6" stroke="#666"/>
<line x1="435" y1="206.6" x2="455.5" y2="197.1" stroke-width="0.6" stroke="#666"/>
<line x1="435" y1="209.2" x2="455.5" y2="199.7" stroke-width="0.6" stroke="#666"/>
<line x1="435" y1="211.8" x2="455.5" y2="202.3" stroke-width="0.6" stroke="#666"/>
<line x1="435" y1="214.4" x2="455.5" y2="204.9" stroke-width="0.6" stroke="#666"/>
<line x1="435" y1="217" x2="455.5" y2="207.5" stroke-width="0.6" stroke="#666"/>
<line x1="435" y1="219.6" x2="455.5" y2="210.1" stroke-width="0.6" stroke="#666"/>
<line x1="435" y1="222.2" x2="455.5" y2="212.7" stroke-width="0.6" stroke="#666"/>
<line x1="453.7" y1="205" x2="453.7" y2="213.7" stroke-width="0.7"/>
<path d="M434 214.5 L455.6 206 L457.4 214 L436 222.5 Z" stroke-width="0.8" fill="#fff"/>
<path d="M436 222.5 L436 226.5 M457.4 214 L457.4 218" stroke-width="0.8"/>
<path d="M416.2 214 L421.9 212.8 L422.5 217 L417 218 Z" stroke-width="0.7" fill="#fff"/>
<polygon points="415.3,179.5 426.5,172 451.8,185.1 438.2,193.5" stroke-width="0.9" stroke="#333" fill="#fff"/>
<polygon points="415.3,179.5 438.2,193.5 438.2,199.5 415.3,186" stroke-width="0.9" stroke="#333" fill="#fff"/>
<polygon points="438.2,193.5 451.8,185.1 451.8,190.7 438.2,199.5" stroke-width="0.9" stroke="#333" fill="#fff"/>
<polygon points="423.3,184.4 429,180.6 437.5,185.8 431.5,189.3" stroke-width="0.7" stroke="#444" fill="#fff"/>
<ellipse cx="431.5" cy="186.3" rx="1.4" ry="1.2" fill="#222"/>
<ellipse cx="424.7" cy="203" rx="10.8" ry="15.2" transform="rotate(-6 424.7 203)" stroke-width="1" stroke="#222" fill="#fff"/>
<path d="M411.3 211.3 L436.3 197.5" stroke-width="0.7" stroke="#888"/>
<path d="M410 163 L414 161.5 L418 165 L414 168 Z" stroke-width="0.8" fill="#fff"/>
<ellipse cx="412" cy="164" rx="1.3" ry="1.3" fill="#333"/>
<path d="M412 170 L415 168.5" stroke-width="0.6"/>
<polygon points="419.8,125.3 429.7,119.7 454,130.9 455,132.8 442.8,139.3 437.6,135.6 441.4,133.2 429.7,127.2 425,128.1" stroke-width="0.6" stroke="#666" fill="#fff"/>
<path d="M419.8 125.3 L425 128.1 L429.7 127.2 L441.4 133.2 L437.6 135.6 L442.8 139.3 L455 132.8" stroke-width="1.2" stroke="#333"/>
<path d="M453.5 120.1 L453.5 130.9" stroke-width="0.7" stroke="#444"/>
<ellipse cx="430" cy="151" rx="2.6" ry="3.2" transform="rotate(-30 430 151)" stroke-width="0.8" stroke="#444" fill="#fff"/>
<polygon points="423.1,158.771 431.6,153.771 428.4,148.229 419.9,153.229" stroke="none" fill="#fff"/>
<line x1="423.1" y1="158.771" x2="431.6" y2="153.771" stroke-width="0.8" stroke="#444"/>
<line x1="419.9" y1="153.229" x2="428.4" y2="148.229" stroke-width="0.8" stroke="#444"/>
<ellipse cx="421.5" cy="156" rx="2.6" ry="3.2" transform="rotate(-30 421.5 156)" stroke-width="0.8" stroke="#444" fill="#fff"/>
<path d="M430 151 L432.5 148.5" stroke-width="0.9" stroke="#444"/>
<ellipse cx="452" cy="159" rx="3" ry="3.6" transform="rotate(-30 452 159)" stroke-width="0.8" stroke="#444" fill="#fff"/>
<polygon points="443.8,167.618 453.8,162.118 450.2,155.882 440.2,161.382" stroke="none" fill="#fff"/>
<line x1="443.8" y1="167.618" x2="453.8" y2="162.118" stroke-width="0.8" stroke="#444"/>
<line x1="440.2" y1="161.382" x2="450.2" y2="155.882" stroke-width="0.8" stroke="#444"/>
<ellipse cx="442" cy="164.5" rx="3" ry="3.6" transform="rotate(-30 442 164.5)" stroke-width="0.8" stroke="#444" fill="#fff"/>
<path d="M452 159 L454.5 155" stroke-width="0.9" stroke="#444"/>
<path d="M431 160 L430 163 L434 165 M436 162 L437 164.5" stroke-width="0.6" stroke="#888"/>
<ellipse cx="461.5" cy="180.5" rx="6.5" ry="10" transform="rotate(20 461.5 180.5)" stroke-width="1.2" stroke="#333" fill="#fff"/>
<ellipse cx="461.5" cy="180.5" rx="4.5" ry="7.5" transform="rotate(20 461.5 180.5)" stroke-width="1.6" stroke="#333"/>
<ellipse cx="461.5" cy="180.5" rx="2.5" ry="4" transform="rotate(20 461.5 180.5)" stroke-width="0.7"/>
<path d="M467 177 Q468 167 474.5 167.5 Q479 169 477.5 174 M469 180 Q470 171 475 171" stroke-width="1" stroke="#333"/>
<ellipse cx="467.5" cy="178.5" rx="1.5" ry="1.5" stroke-width="0.8"/>
<ellipse cx="475" cy="176" rx="1.3" ry="1.3" stroke-width="0.8"/>
<ellipse cx="483" cy="168.2" rx="4" ry="5.3" transform="rotate(20 483 168.2)" stroke-width="1.1" stroke="#333" fill="#fff"/>
<ellipse cx="483" cy="168.2" rx="2.5" ry="3.4" transform="rotate(20 483 168.2)" stroke-width="1.8" stroke="#222"/>
<ellipse cx="483" cy="168.2" rx="1" ry="1.3" stroke-width="0.6"/>
<ellipse cx="496.5" cy="160.5" rx="8.5" ry="11.5" transform="rotate(25 496.5 160.5)" stroke-width="1" stroke="#333" fill="#fff"/>
<ellipse cx="496.5" cy="160.5" rx="6.5" ry="9" transform="rotate(25 496.5 160.5)" stroke-width="0.7" stroke="#555"/>
<ellipse cx="496.5" cy="160.5" rx="3.5" ry="4.8" transform="rotate(25 496.5 160.5)" stroke-width="0.9" stroke="#333"/>
<ellipse cx="496.5" cy="160.5" rx="1.5" ry="2" transform="rotate(25 496.5 160.5)" stroke-width="0.7"/>
<ellipse cx="510.5" cy="151.5" rx="6.5" ry="8.5" transform="rotate(-28 510.5 151.5)" stroke-width="0.8" stroke="#333" fill="#fff"/>
<polygon points="516,152.6 520.3,152.6 520.3,150.4 516,150.4" stroke-width="0.7" stroke="#333" fill="#fff"/>
<polygon points="514.713,156.053 518.437,158.453 519.537,156.547 515.813,154.147" stroke-width="0.7" stroke="#333" fill="#fff"/>
<polygon points="512.297,158.285 514.447,162.442 516.353,161.342 514.203,157.185" stroke-width="0.7" stroke="#333" fill="#fff"/>
<polygon points="509.4,158.7 509.4,163.5 511.6,163.5 511.6,158.7" stroke-width="0.7" stroke="#333" fill="#fff"/>
<polygon points="506.797,157.185 504.647,161.342 506.553,162.442 508.703,158.285" stroke-width="0.7" stroke="#333" fill="#fff"/>
<polygon points="505.187,154.147 501.463,156.547 502.563,158.453 506.287,156.053" stroke-width="0.7" stroke="#333" fill="#fff"/>
<polygon points="505,150.4 500.7,150.4 500.7,152.6 505,152.6" stroke-width="0.7" stroke="#333" fill="#fff"/>
<polygon points="506.287,146.947 502.563,144.547 501.463,146.453 505.187,148.853" stroke-width="0.7" stroke="#333" fill="#fff"/>
<polygon points="508.703,144.715 506.553,140.558 504.647,141.658 506.797,145.815" stroke-width="0.7" stroke="#333" fill="#fff"/>
<polygon points="511.6,144.3 511.6,139.5 509.4,139.5 509.4,144.3" stroke-width="0.7" stroke="#333" fill="#fff"/>
<polygon points="514.203,145.815 516.353,141.658 514.447,140.558 512.297,144.715" stroke-width="0.7" stroke="#333" fill="#fff"/>
<polygon points="515.813,148.853 519.537,146.453 518.437,144.547 514.713,146.947" stroke-width="0.7" stroke="#333" fill="#fff"/>
<ellipse cx="510.5" cy="151.5" rx="5.2" ry="6.8" transform="rotate(-28 510.5 151.5)" stroke-width="0.8" stroke="#333" fill="#fff"/>
<ellipse cx="510.5" cy="151.5" rx="2.5" ry="3.2" transform="rotate(-28 510.5 151.5)" stroke-width="0.8" stroke="#333"/>
<ellipse cx="510.5" cy="151.5" rx="1" ry="1.3" fill="#333"/>
<ellipse cx="528.3" cy="141.8" rx="10" ry="14.8" transform="rotate(-30 528.3 141.8)" stroke-width="4.2" stroke="#555" fill="#fff"/>
<ellipse cx="528.3" cy="141.8" rx="10" ry="14.8" transform="rotate(-30 528.3 141.8)" stroke-width="0.6" stroke="#222"/>
<ellipse cx="528.3" cy="141.8" rx="7.3" ry="11.6" transform="rotate(-30 528.3 141.8)" stroke-width="0.8" stroke="#222"/>
<polygon points="523,126 529,125.5 529,129 523,129" stroke-width="0.6" stroke="#333" fill="#555"/>
<polygon points="516.3,129 518.8,128.5 518.8,133 516.3,133" stroke-width="0.6" stroke="#333" fill="#555"/>
<polygon points="539,137 541.5,136.5 541.5,142 539,142" stroke-width="0.6" stroke="#333" fill="#555"/>
<polygon points="538.5,148 541,147.5 541,153 538.5,153" stroke-width="0.6" stroke="#333" fill="#555"/>
<polygon points="528,156.5 533,156 533,159 528,159" stroke-width="0.6" stroke="#333" fill="#555"/>
<ellipse cx="543.7" cy="133.2" rx="1.8" ry="2.2" transform="rotate(-28 543.7 133.2)" stroke-width="1" stroke="#333" fill="#fff"/>
<ellipse cx="569.8" cy="116.6" rx="12.8" ry="16.5" transform="rotate(-28 569.8 116.6)" stroke-width="0.9" stroke="#444" fill="#fff"/>
<polygon points="568.246,136.069 577.546,131.169 562.054,102.031 552.754,106.931" stroke="none" fill="#fff"/>
<line x1="568.246" y1="136.069" x2="577.546" y2="131.169" stroke-width="0.9" stroke="#444"/>
<line x1="552.754" y1="106.931" x2="562.054" y2="102.031" stroke-width="0.9" stroke="#444"/>
<ellipse cx="560.5" cy="121.5" rx="12.8" ry="16.5" transform="rotate(-28 560.5 121.5)" stroke-width="0.9" stroke="#444" fill="#fff"/>
<ellipse cx="561.5" cy="121" rx="11.5" ry="15" transform="rotate(-28 561.5 121)" stroke-width="0.5" stroke="#777"/>
<path d="M566 111 L574 106 L579 112 L572 118 Z M568 121 L578 115 L581 122 L574 128 Z" stroke-width="0.7" stroke="#555"/>
<path d="M547.5 110 L549 105.5 L554 104 L556 108" stroke-width="0.8" stroke="#444"/>
<ellipse cx="581" cy="133.5" rx="1.3" ry="1.1" fill="#333"/>
<ellipse cx="585" cy="135.5" rx="1.3" ry="1.1" fill="#333"/>
<ellipse cx="589.5" cy="137.5" rx="1.3" ry="1.1" fill="#333"/>
<path d="M460 198 L463 198 M461.5 198 L461.5 205 L460.5 207" stroke-width="1" stroke="#333"/>
<ellipse cx="461.5" cy="215.5" rx="1.4" ry="1" stroke-width="0.8"/>
<line x1="461.5" y1="217" x2="461.5" y2="219" stroke-width="0.7"/>
<ellipse cx="461.5" cy="221" rx="2.2" ry="1.2" stroke-width="0.9" fill="#fff"/>
<ellipse cx="461.5" cy="225" rx="2" ry="1.5" fill="#333"/>
<ellipse cx="70.1" cy="327.5" rx="6" ry="2" stroke-width="0.9" stroke="#333" fill="#fff"/>
<polygon points="70.1,341.5 70.1,329.5 70.1,325.5 70.1,337.5" stroke="none" fill="#fff"/>
<line x1="70.1" y1="341.5" x2="70.1" y2="329.5" stroke-width="0.9" stroke="#333"/>
<line x1="70.1" y1="337.5" x2="70.1" y2="325.5" stroke-width="0.9" stroke="#333"/>
<ellipse cx="70.1" cy="327.5" rx="6" ry="2" stroke-width="0.9" stroke="#333" fill="#fff"/>
<line x1="65" y1="328.5" x2="65" y2="339.5" stroke-width="0.6" stroke="#555"/>
<line x1="66.7" y1="328.5" x2="66.7" y2="339.5" stroke-width="0.6" stroke="#555"/>
<line x1="68.4" y1="328.5" x2="68.4" y2="339.5" stroke-width="0.6" stroke="#555"/>
<line x1="70.1" y1="328.5" x2="70.1" y2="339.5" stroke-width="0.6" stroke="#555"/>
<line x1="71.8" y1="328.5" x2="71.8" y2="339.5" stroke-width="0.6" stroke="#555"/>
<line x1="73.5" y1="328.5" x2="73.5" y2="339.5" stroke-width="0.6" stroke="#555"/>
<line x1="75.2" y1="328.5" x2="75.2" y2="339.5" stroke-width="0.6" stroke="#555"/>
<path d="M66 341 L66 352 Q70 354.5 74.2 352 L74.2 341" stroke-width="0.9" stroke="#333" fill="#fff"/>
<line x1="66" y1="343" x2="74.2" y2="342.2" stroke-width="0.6" stroke="#555"/>
<line x1="66" y1="345" x2="74.2" y2="344.2" stroke-width="0.6" stroke="#555"/>
<line x1="66" y1="347" x2="74.2" y2="346.2" stroke-width="0.6" stroke="#555"/>
<line x1="66" y1="349" x2="74.2" y2="348.2" stroke-width="0.6" stroke="#555"/>
<line x1="66" y1="351" x2="74.2" y2="350.2" stroke-width="0.6" stroke="#555"/>
<path d="M50.4 381 L51.3 378.2 L72.3 366.8 Q76 365.5 79 369 L91.4 390 Q93 393 92.8 396 L92.4 418 Q92 423 87.8 423.5 L81.4 421 L57 415.5 Q51 413 50.4 409 Z" stroke-width="0.9" stroke="#333" fill="#fff"/>
<path d="M50.4 381 L81.4 397.4 L91.4 391.5 M81.4 397.4 L81.4 420.5" stroke-width="0.8" stroke="#333"/>
<path d="M73 367.5 Q77 366.5 79.5 370.5 L91 390.5" stroke-width="0.6" stroke="#666"/>
<line x1="50.6" y1="383.7" x2="81.2" y2="401.5" stroke-width="0.7" stroke="#444"/>
<line x1="50.6" y1="385.7" x2="81.2" y2="403.5" stroke-width="0.7" stroke="#444"/>
<line x1="50.6" y1="398.3" x2="81.2" y2="410.8" stroke-width="0.7" stroke="#444"/>
<line x1="50.6" y1="401" x2="81.2" y2="413.5" stroke-width="0.7" stroke="#444"/>
<line x1="81.6" y1="400" x2="92.3" y2="393.5" stroke-width="0.6" stroke="#555"/>
<line x1="81.6" y1="402" x2="92.3" y2="395.5" stroke-width="0.6" stroke="#555"/>
<line x1="81.6" y1="409.5" x2="92.3" y2="402.8" stroke-width="0.6" stroke="#555"/>
<line x1="81.6" y1="412.5" x2="92.3" y2="405.5" stroke-width="0.6" stroke="#555"/>
<ellipse cx="64.5" cy="408.6" rx="3.2" ry="3.2" stroke-width="1" fill="#fff"/>
<ellipse cx="64.8" cy="408.8" rx="1.8" ry="1.8" fill="#222"/>
<ellipse cx="69.5" cy="376.9" rx="3.2" ry="2" transform="rotate(-20 69.5 376.9)" stroke-width="0.9" fill="#fff"/>
<ellipse cx="69.8" cy="376.4" rx="1.6" ry="1" transform="rotate(-20 69.8 376.4)" stroke-width="0.6"/>
<ellipse cx="87.5" cy="420.5" rx="1.2" ry="1.1" stroke-width="0.7"/>
<path d="M95.8 348 L117.3 338.7 Q120 338 122 341 L134.2 365 L132.3 393 Q131 397 127 396 L102.4 391.1 L96.7 374.3 Z" stroke-width="0.9" stroke="#333" fill="#fff"/>
<path d="M99.8 354 L101.3 365 M128.3 370.5 L128.9 385.5 M108 381.8 L121 386.5" stroke-width="1.6" stroke="#555"/>
<ellipse cx="99" cy="351" rx="0.9" ry="0.9" fill="#333"/>
<ellipse cx="117" cy="342" rx="0.9" ry="0.9" fill="#333"/>
<ellipse cx="131" cy="367" rx="0.9" ry="0.9" fill="#333"/>
<ellipse cx="129" cy="393" rx="0.9" ry="0.9" fill="#333"/>
<ellipse cx="104" cy="388" rx="0.9" ry="0.9" fill="#333"/>
<ellipse cx="27.6" cy="387.2" rx="2.1" ry="2.4" stroke-width="0.9" fill="#fff"/>
<path d="M29 385 L36.5 382.7 L37 386.5 L29.5 389" stroke-width="0.7" stroke="#333" fill="#888"/>
<ellipse cx="51.3" cy="418.3" rx="4" ry="3.3" transform="rotate(-20 51.3 418.3)" stroke-width="1.1" stroke="#333" fill="#fff"/>
<ellipse cx="51.3" cy="418.3" rx="2.5" ry="2" transform="rotate(-20 51.3 418.3)" stroke-width="0.6"/>
<ellipse cx="39" cy="426" rx="4.6" ry="4.2" transform="rotate(-30 39 426)" stroke-width="1.1" stroke="#333" fill="#ddd"/>
<polygon points="37.4,432.637 41.1,429.637 36.9,422.363 33.2,425.363" stroke="none" fill="#ddd"/>
<line x1="37.4" y1="432.637" x2="41.1" y2="429.637" stroke-width="1.1" stroke="#333"/>
<line x1="33.2" y1="425.363" x2="36.9" y2="422.363" stroke-width="1.1" stroke="#333"/>
<ellipse cx="35.3" cy="429" rx="4.6" ry="4.2" transform="rotate(-30 35.3 429)" stroke-width="1.1" stroke="#333" fill="#ddd"/>
<ellipse cx="35.3" cy="429" rx="4.6" ry="4.2" transform="rotate(-30 35.3 429)" stroke-width="1.1" stroke="#333" fill="#fff"/>
<ellipse cx="35.3" cy="429" rx="3.2" ry="2.9" transform="rotate(-30 35.3 429)" stroke-width="0.6" stroke="#555"/>
<polygon points="186,336.5 195,332.5 200.5,335.5 203.5,345.6 201.5,355 191.5,358.5 187.2,356.7 185,348" stroke-width="0.9" stroke="#444" fill="#fff"/>
<path d="M195 332.5 Q198 334 197.5 340 L193.5 343.5 L191.5 358.5 M197.5 340 L203.5 345.6" stroke-width="0.7" stroke="#555"/>
<ellipse cx="201" cy="348.5" rx="1.4" ry="1.8" fill="#333"/>
<ellipse cx="189.5" cy="338.5" rx="4.3" ry="5.1" transform="rotate(-30 189.5 338.5)" stroke-width="0.9" stroke="#444" fill="#fff"/>
<polygon points="182.05,349.117 192.05,342.917 186.95,334.083 176.95,340.283" stroke="none" fill="#fff"/>
<line x1="182.05" y1="349.117" x2="192.05" y2="342.917" stroke-width="0.9" stroke="#444"/>
<line x1="176.95" y1="340.283" x2="186.95" y2="334.083" stroke-width="0.9" stroke="#444"/>
<ellipse cx="179.5" cy="344.7" rx="4.3" ry="5.1" transform="rotate(-30 179.5 344.7)" stroke-width="0.9" stroke="#444" fill="#fff"/>
<ellipse cx="179.8" cy="344.9" rx="1.8" ry="2.2" transform="rotate(-30 179.8 344.9)" stroke="#333" fill="#555"/>
<ellipse cx="164.5" cy="354" rx="3.6" ry="4.3" transform="rotate(-15 164.5 354)" stroke-width="0.9" fill="#fff"/>
<ellipse cx="164.5" cy="354" rx="1.5" ry="1.8" stroke-width="0.7"/>
<ellipse cx="144.5" cy="365" rx="2.2" ry="2.4" stroke-width="0.9" fill="#fff"/>
<ellipse cx="144.5" cy="365" rx="1" ry="1.1" stroke-width="0.6"/>
<polygon points="146.85,366.699 154.85,362.699 153.15,359.301 145.15,363.301" stroke-width="0.8" stroke="#333" fill="#888"/>
<line x1="148.183" y1="366.033" x2="146.484" y2="362.634" stroke-width="0.5" stroke="#222"/>
<line x1="149.516" y1="365.366" x2="147.817" y2="361.967" stroke-width="0.5" stroke="#222"/>
<line x1="150.85" y1="364.699" x2="149.15" y2="361.301" stroke-width="0.5" stroke="#222"/>
<line x1="152.183" y1="364.033" x2="150.484" y2="360.634" stroke-width="0.5" stroke="#222"/>
<line x1="153.516" y1="363.366" x2="151.817" y2="359.967" stroke-width="0.5" stroke="#222"/>
<ellipse cx="146" cy="365" rx="0.855" ry="1.9" transform="rotate(-26.5651 146 365)" stroke-width="0.8" stroke="#333" fill="#fff"/>
<ellipse cx="215" cy="359.7" rx="2.6" ry="1.8" transform="rotate(-20 215 359.7)" stroke-width="0.9" fill="#fff"/>
<ellipse cx="215" cy="359.7" rx="1.2" ry="0.8" transform="rotate(-20 215 359.7)" stroke-width="0.5"/>
<polygon points="223.583,369.277 239.083,377.277 240.917,373.723 225.417,365.723" stroke-width="0.8" stroke="#333" fill="#888"/>
<line x1="224.775" y1="369.893" x2="226.61" y2="366.338" stroke-width="0.5" stroke="#222"/>
<line x1="225.967" y1="370.508" x2="227.802" y2="366.954" stroke-width="0.5" stroke="#222"/>
<line x1="227.16" y1="371.123" x2="228.994" y2="367.569" stroke-width="0.5" stroke="#222"/>
<line x1="228.352" y1="371.739" x2="230.187" y2="368.184" stroke-width="0.5" stroke="#222"/>
<line x1="229.544" y1="372.354" x2="231.379" y2="368.8" stroke-width="0.5" stroke="#222"/>
<line x1="230.737" y1="372.97" x2="232.571" y2="369.415" stroke-width="0.5" stroke="#222"/>
<line x1="231.929" y1="373.585" x2="233.763" y2="370.03" stroke-width="0.5" stroke="#222"/>
<line x1="233.121" y1="374.2" x2="234.956" y2="370.646" stroke-width="0.5" stroke="#222"/>
<line x1="234.313" y1="374.816" x2="236.148" y2="371.261" stroke-width="0.5" stroke="#222"/>
<line x1="235.506" y1="375.431" x2="237.34" y2="371.877" stroke-width="0.5" stroke="#222"/>
<line x1="236.698" y1="376.046" x2="238.533" y2="372.492" stroke-width="0.5" stroke="#222"/>
<line x1="237.89" y1="376.662" x2="239.725" y2="373.107" stroke-width="0.5" stroke="#222"/>
<ellipse cx="240" cy="375.5" rx="0.9" ry="2" transform="rotate(27.2996 240 375.5)" stroke-width="0.8" stroke="#333" fill="#fff"/>
<line x1="205" y1="353" x2="213" y2="358.5" stroke-width="0.6" stroke="#555"/>
<polygon points="441.9,351.9 444.4,328.75 453.75,334.4 453.1,358.75" stroke-width="0.9" stroke="#333" fill="#fff"/>
<polygon points="453.75,334.4 468,326.9 470,350 453.1,358.75" stroke-width="0.9" stroke="#333" fill="#fff"/>
<polygon points="444.4,328.75 457.5,321.9 468,326.9 453.75,334.4" stroke-width="0.9" stroke="#333" fill="#fff"/>
<path d="M441.9 351.9 L441.9 355 L453.1 362 L470 353 L470 350" stroke-width="0.8" stroke="#333" fill="#fff"/>
<line x1="446" y1="329" x2="446" y2="352.5" stroke-width="0.5" stroke="#777"/>
<ellipse cx="452.2" cy="323.5" rx="2.2" ry="1.2" stroke-width="0.8" stroke="#333" fill="#fff"/>
<polygon points="452.2,328.7 452.2,324.7 452.2,322.3 452.2,326.3" stroke="none" fill="#fff"/>
<line x1="452.2" y1="328.7" x2="452.2" y2="324.7" stroke-width="0.8" stroke="#333"/>
<line x1="452.2" y1="326.3" x2="452.2" y2="322.3" stroke-width="0.8" stroke="#333"/>
<ellipse cx="452.2" cy="327.5" rx="2.2" ry="1.2" stroke-width="0.8" stroke="#333" fill="#fff"/>
<ellipse cx="458" cy="326" rx="0.8" ry="0.8"/>
<ellipse cx="445" cy="358" rx="2.3" ry="1.4" stroke-width="0.8" stroke="#333" fill="#fff"/>
<polygon points="445,362.9 445,359.4 445,356.6 445,360.1" stroke="none" fill="#fff"/>
<line x1="445" y1="362.9" x2="445" y2="359.4" stroke-width="0.8" stroke="#333"/>
<line x1="445" y1="360.1" x2="445" y2="356.6" stroke-width="0.8" stroke="#333"/>
<ellipse cx="445" cy="361.5" rx="2.3" ry="1.4" stroke-width="0.8" stroke="#333" fill="#fff"/>
<ellipse cx="450.5" cy="361" rx="2.3" ry="1.4" stroke-width="0.8" stroke="#333" fill="#fff"/>
<polygon points="450.5,365.9 450.5,362.4 450.5,359.6 450.5,363.1" stroke="none" fill="#fff"/>
<line x1="450.5" y1="365.9" x2="450.5" y2="362.4" stroke-width="0.8" stroke="#333"/>
<line x1="450.5" y1="363.1" x2="450.5" y2="359.6" stroke-width="0.8" stroke="#333"/>
<ellipse cx="450.5" cy="364.5" rx="2.3" ry="1.4" stroke-width="0.8" stroke="#333" fill="#fff"/>
<ellipse cx="465.5" cy="357.5" rx="2" ry="2.2" stroke="#333" fill="#444"/>
<polygon points="420.745,339.217 409.745,333.217 407.255,337.783 418.255,343.783" stroke-width="0.8" stroke="#333" fill="#bbb"/>
<line x1="419.523" y1="338.551" x2="417.033" y2="343.116" stroke-width="0.5" stroke="#222"/>
<line x1="418.301" y1="337.884" x2="415.811" y2="342.449" stroke-width="0.5" stroke="#222"/>
<line x1="417.078" y1="337.217" x2="414.588" y2="341.783" stroke-width="0.5" stroke="#222"/>
<line x1="415.856" y1="336.551" x2="413.366" y2="341.116" stroke-width="0.5" stroke="#222"/>
<line x1="414.634" y1="335.884" x2="412.144" y2="340.449" stroke-width="0.5" stroke="#222"/>
<line x1="413.412" y1="335.217" x2="410.922" y2="339.783" stroke-width="0.5" stroke="#222"/>
<line x1="412.189" y1="334.551" x2="409.699" y2="339.116" stroke-width="0.5" stroke="#222"/>
<line x1="410.967" y1="333.884" x2="408.477" y2="338.449" stroke-width="0.5" stroke="#222"/>
<ellipse cx="419.5" cy="341.5" rx="1.17" ry="2.6" transform="rotate(-151.39 419.5 341.5)" stroke-width="0.8" stroke="#333" fill="#fff"/>
<polygon points="482.118,340.847 492.618,335.847 490.382,331.153 479.882,336.153" stroke-width="0.8" stroke="#333" fill="#bbb"/>
<line x1="483.43" y1="340.222" x2="481.195" y2="335.528" stroke-width="0.5" stroke="#222"/>
<line x1="484.743" y1="339.597" x2="482.507" y2="334.903" stroke-width="0.5" stroke="#222"/>
<line x1="486.055" y1="338.972" x2="483.82" y2="334.278" stroke-width="0.5" stroke="#222"/>
<line x1="487.368" y1="338.347" x2="485.132" y2="333.653" stroke-width="0.5" stroke="#222"/>
<line x1="488.68" y1="337.722" x2="486.445" y2="333.028" stroke-width="0.5" stroke="#222"/>
<line x1="489.993" y1="337.097" x2="487.757" y2="332.403" stroke-width="0.5" stroke="#222"/>
<line x1="491.305" y1="336.472" x2="489.07" y2="331.778" stroke-width="0.5" stroke="#222"/>
<ellipse cx="481" cy="338.5" rx="1.17" ry="2.6" transform="rotate(-25.4633 481 338.5)" stroke-width="0.8" stroke="#333" fill="#fff"/>
<ellipse cx="494.8" cy="375.8" rx="6.8" ry="7.2" stroke-width="0.9" stroke="#444" fill="#fff"/>
<ellipse cx="496.5" cy="376.8" rx="5.6" ry="6.3" stroke-width="0.9" stroke="#444" fill="#fff"/>
<line x1="494.5" y1="379.5" x2="499" y2="374.5" stroke-width="0.9" stroke="#444"/>
<path d="M487 370 L490.5 372.5" stroke-width="2.2" stroke="#333"/>
<ellipse cx="540.2" cy="338.2" rx="5.4" ry="5.8" stroke-width="0.9" stroke="#444" fill="#fff"/>
<ellipse cx="541.5" cy="339" rx="4.5" ry="5" stroke-width="0.9" stroke="#444" fill="#fff"/>
<line x1="539.5" y1="341.5" x2="543.5" y2="337" stroke-width="0.8" stroke="#444"/>
<path d="M533.8 334.5 L536.5 336.3" stroke-width="2" stroke="#333"/>
<line x1="519.6" y1="326" x2="533" y2="333.5" stroke-width="0.8"/>
<path d="M507 316 L507 322 Q508 325 511 326.5 L519 327 Q523 325 523.5 321 L523.5 315 Z" stroke-width="0.9" stroke="#333" fill="#fff"/>
<path d="M511.5 305 L510.5 313 Q511 316 515.5 317 Q520 316 520 313 L519.5 305 Z" stroke-width="0.9" stroke="#333" fill="#fff"/>
<ellipse cx="515.5" cy="304" rx="4" ry="2" stroke-width="0.9" stroke="#333" fill="#fff"/>
<line x1="512.2" y1="305.5" x2="512" y2="315.5" stroke-width="0.6" stroke="#555"/>
<line x1="513.8" y1="305.5" x2="513.6" y2="315.5" stroke-width="0.6" stroke="#555"/>
<line x1="515.4" y1="305.5" x2="515.2" y2="315.5" stroke-width="0.6" stroke="#555"/>
<line x1="517" y1="305.5" x2="516.8" y2="315.5" stroke-width="0.6" stroke="#555"/>
<line x1="518.6" y1="305.5" x2="518.4" y2="315.5" stroke-width="0.6" stroke="#555"/>
<ellipse cx="515" cy="316.5" rx="8" ry="3" stroke-width="0.8" stroke="#333" fill="#fff"/>
<ellipse cx="508" cy="322" rx="2.2" ry="1.2" stroke-width="0.7" stroke="#333" fill="#fff"/>
<polygon points="508,326.7 508,323.2 508,320.8 508,324.3" stroke="none" fill="#fff"/>
<line x1="508" y1="326.7" x2="508" y2="323.2" stroke-width="0.7" stroke="#333"/>
<line x1="508" y1="324.3" x2="508" y2="320.8" stroke-width="0.7" stroke="#333"/>
<ellipse cx="508" cy="325.5" rx="2.2" ry="1.2" stroke-width="0.7" stroke="#333" fill="#fff"/>
<ellipse cx="522" cy="322" rx="2.2" ry="1.2" stroke-width="0.7" stroke="#333" fill="#fff"/>
<polygon points="522,327.2 522,323.2 522,320.8 522,324.8" stroke="none" fill="#fff"/>
<line x1="522" y1="327.2" x2="522" y2="323.2" stroke-width="0.7" stroke="#333"/>
<line x1="522" y1="324.8" x2="522" y2="320.8" stroke-width="0.7" stroke="#333"/>
<ellipse cx="522" cy="326" rx="2.2" ry="1.2" stroke-width="0.7" stroke="#333" fill="#fff"/>
<polygon points="542.5,306.5 556,296.5 560,300.5 544.5,309" stroke-width="0.8" stroke="#333" fill="#666"/>
<line x1="544.429" y1="305.071" x2="546.714" y2="307.786" stroke-width="0.6" stroke="#ccc"/>
<line x1="546.357" y1="303.643" x2="548.929" y2="306.571" stroke-width="0.6" stroke="#ccc"/>
<line x1="548.286" y1="302.214" x2="551.143" y2="305.357" stroke-width="0.6" stroke="#ccc"/>
<line x1="550.214" y1="300.786" x2="553.357" y2="304.143" stroke-width="0.6" stroke="#ccc"/>
<line x1="552.143" y1="299.357" x2="555.571" y2="302.929" stroke-width="0.6" stroke="#ccc"/>
<line x1="554.071" y1="297.929" x2="557.786" y2="301.714" stroke-width="0.6" stroke="#ccc"/>
<ellipse cx="558" cy="298.5" rx="2.4" ry="3.6" transform="rotate(-40 558 298.5)" stroke-width="0.9" stroke="#333" fill="#fff"/>
<ellipse cx="542.8" cy="307.5" rx="1.5" ry="1.8" transform="rotate(-40 542.8 307.5)" stroke-width="0.8" stroke="#333" fill="#fff"/>
<ellipse cx="241.5" cy="689.8" rx="18.3" ry="23.5" transform="rotate(7 241.5 689.8)" stroke-width="1" stroke="#555" fill="#fff"/>
<path d="M245.5 666.25 A18.3 23.5 7 0 0 239.7 712.95" stroke-width="0.8" stroke="#777"/>
<path d="M247 666.1 A18.3 23.5 7 0 0 241.2 712.8" stroke-width="0.8" stroke="#777"/>
<path d="M248.5 665.95 A18.3 23.5 7 0 0 242.7 712.65" stroke-width="0.8" stroke="#777"/>
<path d="M250 665.8 A18.3 23.5 7 0 0 244.2 712.5" stroke-width="0.8" stroke="#777"/>
<path d="M251.5 665.65 A18.3 23.5 7 0 0 245.7 712.35" stroke-width="0.8" stroke="#777"/>
<polygon points="243,666.5 252,666.8 248,714.5 240,714" stroke="none" fill="#fff"/>
<ellipse cx="250.2" cy="691.5" rx="18.3" ry="23.5" transform="rotate(7 250.2 691.5)" stroke-width="1" stroke="#555" fill="#fff"/>
<ellipse cx="248.3" cy="691.8" rx="13.3" ry="17.3" transform="rotate(7 248.3 691.8)" stroke-width="0.8" stroke="#555"/>
<ellipse cx="248.3" cy="691.8" rx="5" ry="5.8" transform="rotate(7 248.3 691.8)" stroke-width="0.8" stroke="#555"/>
<ellipse cx="248.3" cy="691.8" rx="2" ry="2.4" transform="rotate(7 248.3 691.8)" stroke-width="0.9" stroke="#444"/>
<path d="M239.5 686 L242.5 688 M253 695.5 L257.5 698" stroke-width="0.7" stroke="#555"/>
<ellipse cx="218.1" cy="672.8" rx="5.6" ry="7.1" transform="rotate(15 218.1 672.8)" stroke-width="0.8" stroke="#444" fill="#fff"/>
<ellipse cx="218.3" cy="672.8" rx="2" ry="2.6" transform="rotate(15 218.3 672.8)" stroke-width="0.7"/>
<ellipse cx="283.8" cy="712.3" rx="4.2" ry="6" transform="rotate(25 283.8 712.3)" stroke-width="1.4" stroke="#333" fill="#fff"/>
<ellipse cx="283.8" cy="712.3" rx="2.6" ry="4.3" transform="rotate(25 283.8 712.3)" stroke-width="0.6" stroke="#555"/>
<path d="M282 706.5 L284 703.5 L286.5 704 L286 707 M286 707 L288.5 705.5" stroke-width="1" stroke="#333"/>
<ellipse cx="310.5" cy="728.5" rx="8.4" ry="9.6" transform="rotate(30 310.5 728.5)" stroke-width="0.9" stroke="#333" fill="#fff"/>
<path d="M305 720.5 Q300 724 302.5 733 Q305 738.5 309 737.5" stroke-width="0.9" stroke="#333"/>
<ellipse cx="312.3" cy="727.8" rx="8.1" ry="9.4" transform="rotate(30 312.3 727.8)" stroke-width="0.9" stroke="#333" fill="#fff"/>
<path d="M249 638 L249 655 Q253.5 658 258 655 L258 638" stroke-width="0.9" stroke="#333" fill="#fff"/>
<ellipse cx="253.5" cy="638" rx="4.5" ry="1.6" stroke-width="0.9" stroke="#333" fill="#fff"/>
<line x1="249.2" y1="641" x2="257.8" y2="641" stroke-width="0.8" stroke="#333"/>
<line x1="249.2" y1="643" x2="257.8" y2="643" stroke-width="0.8" stroke="#333"/>
<line x1="249.2" y1="645.5" x2="257.8" y2="645.5" stroke-width="0.8" stroke="#333"/>
<line x1="249.2" y1="647.5" x2="257.8" y2="647.5" stroke-width="0.8" stroke="#333"/>
<line x1="249.2" y1="650" x2="257.8" y2="650" stroke-width="0.8" stroke="#333"/>
<line x1="249.2" y1="652.5" x2="257.8" y2="652.5" stroke-width="0.8" stroke="#333"/>
<ellipse cx="253.5" cy="648.5" rx="2.2" ry="1.5" fill="#333"/>
<ellipse cx="288" cy="600.5" rx="3" ry="2.3" stroke-width="0.8" stroke="#222" fill="#444"/>
<ellipse cx="288" cy="599.5" rx="1.6" ry="1" stroke="#fff" fill="#fff"/>
<ellipse cx="288" cy="613.5" rx="4" ry="2" stroke-width="0.8" stroke="#333" fill="#fff"/>
<path d="M286 613 L288 610 L290 613" stroke-width="0.9" fill="#444"/>
<ellipse cx="288" cy="632" rx="3.8" ry="1.8" stroke-width="0.8" stroke="#333" fill="#fff"/>
<ellipse cx="288" cy="632" rx="1.5" ry="0.7" fill="#444"/>
<path d="M282.5 650 Q282 661 288 661.5 Q294.5 661 294 650 M285 650 L285 658 M291 650 L291 658 M284 650 L292 650" stroke-width="0.7" stroke="#aaa"/>
<ellipse cx="288" cy="646" rx="0.8" ry="0.8" stroke="#aaa"/>
<path d="M517.3 425 L517.5 447 Q518 453 526 459.5 Q545 473 553.5 491.5" stroke-width="0.9" stroke="#444"/>
<path d="M522.7 425 L522.5 445 Q523 450 530 455.5 Q550 469 558 489" stroke-width="0.9" stroke="#444"/>
<ellipse cx="520" cy="425" rx="2.7" ry="1.2" stroke-width="0.9" stroke="#444" fill="#fff"/>
<ellipse cx="556.5" cy="491" rx="2.5" ry="3" transform="rotate(40 556.5 491)" stroke-width="0.9" stroke="#444" fill="#fff"/>
<ellipse cx="556.5" cy="491" rx="1.1" ry="1.4" transform="rotate(40 556.5 491)" stroke-width="0.7"/>
<path d="M401.5 528 L404 590 Q405 600 416 596.5 L462.5 574.5" stroke-width="0.9" stroke="#444"/>
<path d="M406 528 L408.5 587 Q409.5 593 416 591 L461 570" stroke-width="0.9" stroke="#444"/>
<path d="M400.5 520.5 L401 527 Q404.8 529.5 408.8 527 L409 520.5" stroke-width="0.9" stroke="#333" fill="#fff"/>
<ellipse cx="404.8" cy="520.5" rx="4.2" ry="1.8" stroke-width="0.9" stroke="#333" fill="#fff"/>
<line x1="401" y1="522.5" x2="408.8" y2="522.5" stroke-width="0.6" stroke="#555"/>
<line x1="401" y1="524.5" x2="408.8" y2="524.5" stroke-width="0.6" stroke="#555"/>
<path d="M461 570 L466 567.5 L471.5 570 L472 575.5 L467 578.5 L462 576 Z" stroke-width="0.9" stroke="#333" fill="#fff"/>
<path d="M466 567.5 L466.5 573 L472 575.5 M466.5 573 L462 576" stroke-width="0.6" stroke="#555"/>
<line x1="472" y1="572" x2="484" y2="565" stroke-width="0.7" stroke="#444"/>
<polygon points="485.441,568.401 490.441,565.401 487.559,560.599 482.559,563.599" stroke-width="0.8" stroke="#333" fill="#999"/>
<line x1="486.691" y1="567.651" x2="483.809" y2="562.849" stroke-width="0.5" stroke="#222"/>
<line x1="487.941" y1="566.901" x2="485.059" y2="562.099" stroke-width="0.5" stroke="#222"/>
<line x1="489.191" y1="566.151" x2="486.309" y2="561.349" stroke-width="0.5" stroke="#222"/>
<ellipse cx="484" cy="566" rx="1.26" ry="2.8" transform="rotate(-30.9638 484 566)" stroke-width="0.8" stroke="#333" fill="#fff"/>
<path d="M489 556 L501 549 Q507 549.5 508.5 556 Q509 563 503.5 566 L492 568 Q487.5 566 487.5 561 Z" stroke-width="0.9" stroke="#333" fill="#fff"/>
<ellipse cx="502.5" cy="557.5" rx="5.5" ry="8.5" transform="rotate(25 502.5 557.5)" stroke-width="0.9" stroke="#333" fill="#fff"/>
<ellipse cx="495" cy="550.5" rx="2.3" ry="2" stroke-width="0.8" stroke="#333" fill="#555"/>
<path d="M419.5 695.5 Q440 667 491.5 663.5" stroke-width="0.8" stroke="#555"/>
<path d="M421.5 700.5 Q446 672.5 492 669" stroke-width="0.8" stroke="#555"/>
<ellipse cx="491.8" cy="666.3" rx="1.4" ry="2.8" stroke-width="0.8" stroke="#555" fill="#fff"/>
<path d="M420 698 L408 693 M420 698.5 L405 699.5 M420.5 699 L411 708" stroke-width="0.8" stroke="#444"/>
<ellipse cx="407" cy="692.5" rx="2" ry="1.3" transform="rotate(-20 407 692.5)" stroke-width="0.8" stroke="#333" fill="#fff"/>
<ellipse cx="404" cy="700" rx="2" ry="1.3" transform="rotate(-20 404 700)" stroke-width="0.8" stroke="#333" fill="#fff"/>
<ellipse cx="410.5" cy="709" rx="2" ry="1.3" transform="rotate(-20 410.5 709)" stroke-width="0.8" stroke="#333" fill="#fff"/>
<path d="M528.5 677.5 Q558 648.5 601 645" stroke-width="0.8" stroke="#555"/>
<path d="M531 682 Q563 654.5 601.5 650" stroke-width="0.8" stroke="#555"/>
<path d="M601.5 648 L611 641 M601.5 648.5 L613 648 M601 649 L609 654" stroke-width="0.8" stroke="#444"/>
<ellipse cx="612" cy="640.5" rx="1.6" ry="1.2" transform="rotate(20 612 640.5)" stroke-width="0.8" stroke="#333" fill="#fff"/>
<ellipse cx="614" cy="648" rx="1.6" ry="1.2" transform="rotate(20 614 648)" stroke-width="0.8" stroke="#333" fill="#fff"/>
<ellipse cx="610" cy="655" rx="1.6" ry="1.2" transform="rotate(20 610 655)" stroke-width="0.8" stroke="#333" fill="#fff"/>
<path d="M515 683 L527 677 Q532 679 532 684 L522 692 Q516 692 515 687 Z" stroke-width="0.9" stroke="#333" fill="#fff"/>
<ellipse cx="516.5" cy="688.5" rx="4.5" ry="6.5" transform="rotate(30 516.5 688.5)" stroke-width="0.9" stroke="#333" fill="#fff"/>
<path d="M513.5 684.5 L508.5 682.5 M515.5 692 L511 694.5" stroke-width="1.5" stroke="#333"/>
<ellipse cx="508" cy="682.5" rx="1" ry="1.2" fill="#333"/>
<ellipse cx="510.5" cy="695" rx="1" ry="1.2" fill="#333"/>
<ellipse cx="246.5" cy="272.5" rx="1.4" ry="1.6" stroke-width="0.8" stroke="#333" fill="#fff"/>
<path d="M247.5 271 L253.5 269.3 L254 272 L248 273.8" stroke-width="0.6" stroke="#333" fill="#999"/>
<path d="M260 264.5 L262.5 263.5 L263.5 267 L261 268 Z" stroke-width="0.6" stroke="#222" fill="#444"/>
<ellipse cx="328.8" cy="434" rx="2.7" ry="3.1" transform="rotate(20 328.8 434)" stroke-width="0.9" stroke="#444" fill="#fff"/>
<ellipse cx="335" cy="437.2" rx="4.8" ry="5.3" transform="rotate(15 335 437.2)" stroke-width="0.9" stroke="#444" fill="#fff"/>
<path d="M331 431.3 L333 432.3" stroke-width="0.7" stroke="#444"/>
</g>
<g stroke="#222" stroke-width="1.5" stroke-linecap="butt">
<line x1="250.4" y1="25" x2="267" y2="25"/>
<line x1="268" y1="47" x2="288" y2="35.6"/>
<line x1="268" y1="55.6" x2="288" y2="44.4"/>
<line x1="213.7" y1="69.4" x2="233.7" y2="80.4"/>
<line x1="218.3" y1="97.7" x2="239.8" y2="108"/>
<line x1="218" y1="110" x2="239" y2="119.6"/>
<line x1="218.3" y1="120" x2="239.8" y2="132"/>
<line x1="218.3" y1="130" x2="240" y2="142.5"/>
<line x1="218" y1="140" x2="239" y2="152.5"/>
<line x1="220" y1="151" x2="240.8" y2="161"/>
<line x1="220" y1="160" x2="241" y2="169"/>
<line x1="213.7" y1="168" x2="232.5" y2="177"/>
<line x1="213.7" y1="176" x2="233.5" y2="185"/>
<line x1="213.7" y1="186" x2="234.6" y2="195.6"/>
<line x1="219.6" y1="202" x2="238.75" y2="213.3"/>
<line x1="111" y1="121.5" x2="121" y2="126"/>
<line x1="112.7" y1="135.4" x2="130.5" y2="144.7"/>
<line x1="112.7" y1="143.8" x2="130.5" y2="153"/>
<line x1="112" y1="155" x2="130" y2="163.8"/>
<line x1="112" y1="166.7" x2="123.7" y2="171.8"/>
<line x1="112" y1="182" x2="131.3" y2="193"/>
<line x1="342.4" y1="89.1" x2="359" y2="89.1"/>
<line x1="361" y1="120.3" x2="377" y2="120.3"/>
<line x1="355.6" y1="131.8" x2="372" y2="131.8"/>
<line x1="334" y1="150.5" x2="350" y2="150.5"/>
<line x1="334" y1="163" x2="350" y2="163"/>
<line x1="334" y1="173.2" x2="350" y2="173.2"/>
<line x1="348.8" y1="184.2" x2="364.7" y2="184.2"/>
<line x1="431" y1="114" x2="434.4" y2="123.3"/>
<line x1="449" y1="110.8" x2="453.75" y2="121.25"/>
<line x1="421.9" y1="148" x2="424" y2="152.5"/>
<line x1="440.6" y1="149.4" x2="444.8" y2="158.75"/>
<line x1="400" y1="160" x2="410" y2="167.5"/>
<line x1="400" y1="175" x2="412.5" y2="184"/>
<line x1="469.8" y1="204" x2="486.5" y2="215"/>
<line x1="468.75" y1="222" x2="477" y2="228.5"/>
<line x1="452" y1="226.5" x2="471.9" y2="237"/>
<line x1="484.4" y1="196" x2="502" y2="207.7"/>
<line x1="492.7" y1="191" x2="511.5" y2="200.4"/>
<line x1="503.3" y1="185.7" x2="522" y2="196.7"/>
<line x1="518.7" y1="176" x2="537.4" y2="187.2"/>
<line x1="535" y1="167.4" x2="554" y2="178"/>
<line x1="545" y1="161.5" x2="563.8" y2="173"/>
<line x1="562.7" y1="151.6" x2="581.4" y2="163.7"/>
<line x1="574.8" y1="141.7" x2="593.5" y2="153.8"/>
<line x1="593.5" y1="138.8" x2="602.3" y2="145"/>
<line x1="304" y1="213" x2="316.5" y2="223"/>
<line x1="409.4" y1="240.9" x2="429" y2="252.2"/>
<line x1="377.7" y1="250.7" x2="396.3" y2="261.6"/>
<line x1="338.4" y1="272.5" x2="358" y2="283.4"/>
<line x1="324.2" y1="278.4" x2="343.8" y2="289.3"/>
<line x1="245.4" y1="254.3" x2="260.6" y2="265.4"/>
<line x1="230.2" y1="264.4" x2="245.4" y2="271.5"/>
<line x1="297" y1="311" x2="312.4" y2="319"/>
<line x1="435.2" y1="315.6" x2="449.3" y2="323"/>
<line x1="395" y1="345.5" x2="407" y2="338"/>
<line x1="494.3" y1="296.9" x2="507.5" y2="304.3"/>
<line x1="548.7" y1="306" x2="561.8" y2="313.7"/>
<line x1="545" y1="345.5" x2="559" y2="354"/>
<line x1="491.5" y1="343.7" x2="505.6" y2="351.2"/>
<line x1="503.7" y1="384" x2="516.8" y2="391.4"/>
<line x1="56.2" y1="342.8" x2="65.5" y2="347.4"/>
<line x1="17.6" y1="379" x2="30.4" y2="386"/>
<line x1="92.4" y1="424.7" x2="111.2" y2="435.2"/>
<line x1="63.2" y1="425.8" x2="90" y2="441"/>
<line x1="42.1" y1="436.4" x2="70.2" y2="451.6"/>
<line x1="160.4" y1="325.3" x2="177.2" y2="333.7"/>
<line x1="220.75" y1="354.8" x2="236.2" y2="346.3"/>
<line x1="241.8" y1="367.4" x2="255.9" y2="359"/>
<line x1="174.4" y1="360.4" x2="194" y2="371.6"/>
<line x1="153.4" y1="373.6" x2="174.4" y2="384.2"/>
<line x1="130.9" y1="395.5" x2="152" y2="406.7"/>
<line x1="343.5" y1="442.3" x2="375.3" y2="459"/>
<line x1="97.5" y1="565.2" x2="134.6" y2="587"/>
<line x1="104" y1="639.5" x2="128" y2="628.5"/>
<line x1="301" y1="603.4" x2="340.5" y2="624.7"/>
<line x1="305" y1="620.6" x2="342" y2="640.5"/>
<line x1="305" y1="634.3" x2="342" y2="653.2"/>
<line x1="306" y1="658.3" x2="344" y2="679"/>
<line x1="235.8" y1="656.6" x2="249.5" y2="649.8"/>
<line x1="184.3" y1="697.8" x2="208.3" y2="685.8"/>
<line x1="205" y1="709" x2="227.2" y2="697.8"/>
<line x1="241" y1="739" x2="273.5" y2="720"/>
<line x1="270" y1="754.4" x2="293.4" y2="742.4"/>
<line x1="492.3" y1="442.8" x2="511" y2="453.7"/>
<line x1="531.3" y1="483.3" x2="550" y2="492.7"/>
<line x1="453.3" y1="541" x2="472" y2="550.4"/>
<line x1="442.4" y1="559" x2="461.7" y2="569"/>
<line x1="430" y1="569.7" x2="447" y2="580"/>
<line x1="459.7" y1="678.7" x2="479.3" y2="688.5"/>
<line x1="572" y1="661" x2="591.6" y2="671"/>
</g>
<g fill="#444" stroke="#444" stroke-width="0.15" font-family="Liberation Serif" font-size="9.8">
<text x="270" y="28.5">30</text>
<text x="289.4" y="39.4">31</text>
<text x="289.4" y="48.75">32</text>
<text x="203.7" y="70">29</text>
<text x="209.6" y="99.8">28</text>
<text x="209.6" y="112">25</text>
<text x="209.6" y="123">26</text>
<text x="209.6" y="133">27</text>
<text x="209.6" y="142.5">26</text>
<text x="209.6" y="154">25</text>
<text x="209.6" y="162">24</text>
<text x="205" y="170.6">22</text>
<text x="205" y="179.6">21</text>
<text x="205" y="189">20</text>
<text x="210.6" y="206">19</text>
<text x="103" y="124.4">18</text>
<text x="103" y="139">17</text>
<text x="103" y="146.4">16</text>
<text x="103" y="157.4">15</text>
<text x="103" y="168.4">14</text>
<text x="103" y="184.4">13</text>
<text x="362.7" y="92">33</text>
<text x="379.6" y="123.8">34</text>
<text x="374.9" y="134.6">35</text>
<text x="354" y="153.8">36</text>
<text x="354" y="166.8">37</text>
<text x="354" y="176.6">38</text>
<text x="368" y="187.6">39</text>
<text x="425" y="114">44</text>
<text x="440.6" y="109.8">45</text>
<text x="414.6" y="147.3">42</text>
<text x="434" y="149">43</text>
<text x="390" y="162.5">41</text>
<text x="390" y="177.5">40</text>
<text x="488.5" y="222.3">56</text>
<text x="477.5" y="235.8">57, 58, 59</text>
<text x="473" y="245">60</text>
<text x="503.3" y="214">55</text>
<text x="512.5" y="208">54</text>
<text x="522" y="203.3">53</text>
<text x="537.8" y="194.5">52</text>
<text x="553.5" y="185">51</text>
<text x="564" y="179">50</text>
<text x="581.4" y="169.6">49</text>
<text x="593.5" y="160">48</text>
<text x="602.3" y="151.6">46, 47</text>
<text x="318.7" y="227.8">23</text>
<text x="429" y="260.5">61</text>
<text x="397.4" y="270.3">62</text>
<text x="358.5" y="293.3">63</text>
<text x="345" y="298.7">64</text>
<text x="236.3" y="255.3">65</text>
<text x="221" y="264.4">66</text>
<text x="312.4" y="326.3">01</text>
<text x="425" y="317.5">71</text>
<text x="384.7" y="350.2">73</text>
<text x="486" y="298.7">68</text>
<text x="561.8" y="322">67</text>
<text x="560" y="360.5">69</text>
<text x="508.4" y="360.5">70</text>
<text x="517.75" y="398">72</text>
<text x="46.8" y="345">12</text>
<text x="8.2" y="381.4">11</text>
<text x="111" y="442.2">08</text>
<text x="90" y="448">09</text>
<text x="70.2" y="459.8">10</text>
<text x="146.3" y="325.3">02</text>
<text x="237.6" y="349.1">03</text>
<text x="257.3" y="361.8">04</text>
<text x="198.3" y="381.4">05</text>
<text x="177.2" y="392.7">06</text>
<text x="152" y="412.3">07</text>
<text x="377" y="466.6">79</text>
<text x="86.5" y="565.2">80</text>
<text x="88.7" y="648.2">92</text>
<text x="345" y="632.6">89</text>
<text x="345" y="648">88</text>
<text x="345" y="661.8">87</text>
<text x="345" y="684">86</text>
<text x="225.5" y="661.5">85</text>
<text x="168.9" y="704.7">81</text>
<text x="188.4" y="715">82</text>
<text x="225.5" y="742.4">83</text>
<text x="256.4" y="759.6">84</text>
<text x="481.4" y="446">74</text>
<text x="520.4" y="486.4">75</text>
<text x="440.8" y="542.6">76</text>
<text x="431.5" y="558.2">77</text>
<text x="419" y="572.2">78</text>
<text x="480.8" y="696.4">90</text>
<text x="592.8" y="678.7">91</text>
</g>
</svg></body></html>
